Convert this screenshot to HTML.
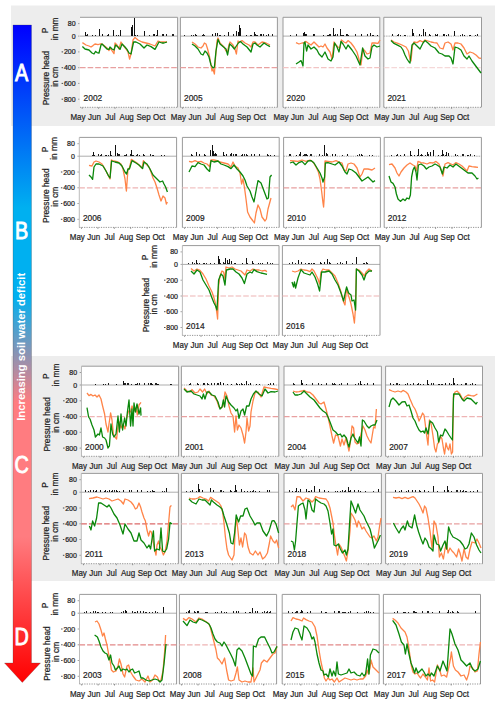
<!DOCTYPE html><html><head><meta charset="utf-8"><style>html,body{margin:0;padding:0;background:#fff;width:500px;height:704px;overflow:hidden}svg{display:block}</style></head><body>
<svg width="500" height="704" viewBox="0 0 500 704" font-family='"Liberation Sans", sans-serif'>
<style>text.t{stroke:#222;stroke-width:0.22px}</style>
<defs><linearGradient id="grad" gradientUnits="userSpaceOnUse" x1="0" y1="25" x2="0" y2="682"><stop offset="0" stop-color="#0000ff"/><stop offset="0.2785" stop-color="#00b0f0"/><stop offset="0.414" stop-color="#00b0f0"/><stop offset="0.575" stop-color="#ff7c80"/><stop offset="0.779" stop-color="#ff7c80"/><stop offset="1" stop-color="#ff0000"/></linearGradient></defs>
<rect x="11" y="5.5" width="484" height="120.5" fill="#ededed"/>
<rect x="11" y="356" width="484" height="225" fill="#ededed"/>
<path d="M13 25 H31.5 V663 H40.5 L22.3 682.5 L4.5 663 H13 Z" fill="url(#grad)" stroke="rgba(60,60,60,0.35)" stroke-width="0.7"/>
<text transform="translate(21.6,80.5) scale(0.86,1)" font-size="23" fill="#fff" stroke="#fff" stroke-width="0.9" text-anchor="middle">A</text>
<text transform="translate(21.6,238.5) scale(0.86,1)" font-size="23" fill="#fff" stroke="#fff" stroke-width="0.9" text-anchor="middle">B</text>
<text transform="translate(21.6,472.59999999999997) scale(0.86,1)" font-size="23" fill="#fff" stroke="#fff" stroke-width="0.9" text-anchor="middle">C</text>
<text transform="translate(21.6,644.7) scale(0.86,1)" font-size="23" fill="#fff" stroke="#fff" stroke-width="0.9" text-anchor="middle">D</text>
<text transform="translate(25.4,346.8) rotate(-90)" font-size="11.4" font-weight="bold" fill="#fff" text-anchor="middle" textLength="148" lengthAdjust="spacingAndGlyphs">Increasing soil water deficit</text>
<rect x="80" y="17.3" width="97.6" height="90.0" fill="#fff"/>
<path d="M80 17.3 H177.6 V107.3" fill="none" stroke="#9a9a9a" stroke-width="1"/>
<line x1="80" y1="107.3" x2="177.6" y2="107.3" stroke="#888" stroke-width="0.9" stroke-dasharray="1.2 1.2"/>
<line x1="80" y1="36.1" x2="177.6" y2="36.1" stroke="#8a8a8a" stroke-width="0.7"/>
<line x1="80" y1="67.7" x2="177.6" y2="67.7" stroke="#e8a0a0" stroke-width="1.2" stroke-dasharray="5.6 2"/>
<line x1="82.2" y1="107.3" x2="82.2" y2="108.8" stroke="#666" stroke-width="0.7"/>
<line x1="98.6" y1="107.3" x2="98.6" y2="108.8" stroke="#666" stroke-width="0.7"/>
<line x1="115.0" y1="107.3" x2="115.0" y2="108.8" stroke="#666" stroke-width="0.7"/>
<line x1="131.4" y1="107.3" x2="131.4" y2="108.8" stroke="#666" stroke-width="0.7"/>
<line x1="147.8" y1="107.3" x2="147.8" y2="108.8" stroke="#666" stroke-width="0.7"/>
<line x1="164.2" y1="107.3" x2="164.2" y2="108.8" stroke="#666" stroke-width="0.7"/>
<polyline points="82.4,42.6 86.0,45.0 89.0,46.0 91.0,47.0 93.0,45.6 95.0,44.0 98.0,44.6 100.0,44.0 102.0,44.0 104.0,45.6 107.0,48.0 109.0,50.6 110.0,48.0 112.0,50.6 114.0,53.6 115.0,43.0 117.0,45.0 119.0,49.0 121.0,42.0 123.0,45.0 126.0,49.0 128.0,52.0 129.6,59.0 131.0,54.0 133.0,40.0 135.0,37.4 138.0,40.0 142.0,42.0 146.0,43.0 150.0,44.0 155.0,46.0 158.0,41.0 161.0,42.0 164.0,42.0 167.0,42.0" fill="none" stroke="#ff8448" stroke-width="1.3" stroke-linejoin="round"/>
<polyline points="82.4,46.6 85.0,49.0 89.0,50.0 92.0,53.0 94.0,54.0 95.6,51.4 97.0,52.6 99.0,53.0 101.0,45.0 102.0,44.0 104.0,46.0 107.0,49.0 109.0,49.4 110.0,47.0 112.0,49.0 114.0,50.0 115.6,45.0 118.0,47.0 120.0,49.4 122.0,44.0 125.0,47.0 127.0,49.4 129.0,53.0 131.0,54.0 133.6,42.0 136.0,42.0 140.0,44.0 144.0,48.0 147.0,45.0 151.0,46.6 155.0,49.4 159.0,42.0 162.0,43.0 164.0,43.0 167.0,42.0" fill="none" stroke="#0a870a" stroke-width="1.3" stroke-linejoin="round"/>
<rect x="149" y="34.5" width="1" height="1.6" fill="#222" shape-rendering="crispEdges"/>
<rect x="153" y="34.4" width="1" height="1.7" fill="#222" shape-rendering="crispEdges"/>
<rect x="162" y="33.9" width="1" height="2.2" fill="#222" shape-rendering="crispEdges"/>
<rect x="137" y="35.3" width="1" height="0.8" fill="#222" shape-rendering="crispEdges"/>
<rect x="107" y="34.5" width="1" height="1.6" fill="#222" shape-rendering="crispEdges"/>
<rect x="173" y="35.2" width="1" height="0.9" fill="#222" shape-rendering="crispEdges"/>
<rect x="153" y="33.9" width="1" height="2.2" fill="#222" shape-rendering="crispEdges"/>
<rect x="86" y="35.3" width="1" height="0.8" fill="#222" shape-rendering="crispEdges"/>
<rect x="99" y="34.7" width="1" height="1.4" fill="#222" shape-rendering="crispEdges"/>
<rect x="116" y="34.5" width="1" height="1.6" fill="#222" shape-rendering="crispEdges"/>
<rect x="135" y="34.7" width="1" height="1.4" fill="#222" shape-rendering="crispEdges"/>
<rect x="87" y="34.4" width="1" height="1.7" fill="#222" shape-rendering="crispEdges"/>
<rect x="85" y="34.7" width="1" height="1.4" fill="#222" shape-rendering="crispEdges"/>
<rect x="172" y="33.9" width="1" height="2.2" fill="#222" shape-rendering="crispEdges"/>
<rect x="166" y="34.3" width="1" height="1.8" fill="#222" shape-rendering="crispEdges"/>
<rect x="173" y="34.0" width="1" height="2.1" fill="#222" shape-rendering="crispEdges"/>
<rect x="113" y="34.9" width="1" height="1.2" fill="#222" shape-rendering="crispEdges"/>
<rect x="118" y="34.6" width="1" height="1.5" fill="#222" shape-rendering="crispEdges"/>
<rect x="87" y="34.8" width="1" height="1.3" fill="#222" shape-rendering="crispEdges"/>
<rect x="118" y="34.5" width="1" height="1.6" fill="#222" shape-rendering="crispEdges"/>
<rect x="156" y="35.2" width="1" height="0.9" fill="#222" shape-rendering="crispEdges"/>
<rect x="95" y="35.0" width="1" height="1.1" fill="#222" shape-rendering="crispEdges"/>
<rect x="85" y="31.7" width="1" height="4.4" fill="#111" shape-rendering="crispEdges"/>
<rect x="99" y="28.7" width="1" height="7.4" fill="#111" shape-rendering="crispEdges"/>
<rect x="113" y="29.7" width="1" height="6.4" fill="#111" shape-rendering="crispEdges"/>
<rect x="120" y="30.1" width="1" height="6.0" fill="#111" shape-rendering="crispEdges"/>
<rect x="131" y="26.7" width="1" height="9.4" fill="#111" shape-rendering="crispEdges"/>
<rect x="132" y="24.7" width="1" height="11.4" fill="#111" shape-rendering="crispEdges"/>
<rect x="134" y="18.3" width="1" height="17.8" fill="#111" shape-rendering="crispEdges"/>
<rect x="144" y="31.3" width="1" height="4.8" fill="#111" shape-rendering="crispEdges"/>
<rect x="157" y="30.3" width="1" height="5.8" fill="#111" shape-rendering="crispEdges"/>
<rect x="108" y="33.7" width="1" height="2.4" fill="#111" shape-rendering="crispEdges"/>
<rect x="92" y="34.7" width="1" height="1.4" fill="#111" shape-rendering="crispEdges"/>
<rect x="102" y="34.3" width="1" height="1.8" fill="#111" shape-rendering="crispEdges"/>
<rect x="154" y="33.7" width="1" height="2.4" fill="#111" shape-rendering="crispEdges"/>
<rect x="163" y="33.7" width="1" height="2.4" fill="#111" shape-rendering="crispEdges"/>
<text transform="translate(83.6,101.0) scale(0.88,1)" font-size="9.5" fill="#222" class="t">2002</text>
<text transform="translate(78.0,119.9) scale(0.86,1)" font-size="9.3" fill="#222" class="t" text-anchor="middle">May</text>
<text transform="translate(94.5,119.9) scale(0.86,1)" font-size="9.3" fill="#222" class="t" text-anchor="middle">Jun</text>
<text transform="translate(110.3,119.9) scale(0.86,1)" font-size="9.3" fill="#222" class="t" text-anchor="middle">Jul</text>
<text transform="translate(126.7,119.9) scale(0.86,1)" font-size="9.3" fill="#222" class="t" text-anchor="middle">Aug</text>
<text transform="translate(143.5,119.9) scale(0.86,1)" font-size="9.3" fill="#222" class="t" text-anchor="middle">Sep</text>
<text transform="translate(159.3,119.9) scale(0.86,1)" font-size="9.3" fill="#222" class="t" text-anchor="middle">Oct</text>
<text x="75.6" y="26.1" font-size="7" fill="#222" class="t" text-anchor="end">80</text>
<line x1="78.2" y1="23.6" x2="79.4" y2="23.6" stroke="#666" stroke-width="0.7"/>
<text x="75.6" y="38.6" font-size="7" fill="#222" class="t" text-anchor="end">0</text>
<line x1="78.2" y1="36.1" x2="79.4" y2="36.1" stroke="#666" stroke-width="0.7"/>
<text x="75.6" y="54.4" font-size="7" fill="#222" class="t" text-anchor="end">200</text>
<line x1="61.6" y1="51.9" x2="63.1" y2="51.9" stroke="#222" stroke-width="0.8"/>
<line x1="78.2" y1="51.9" x2="79.4" y2="51.9" stroke="#666" stroke-width="0.7"/>
<text x="75.6" y="70.2" font-size="7" fill="#222" class="t" text-anchor="end">400</text>
<line x1="61.6" y1="67.7" x2="63.1" y2="67.7" stroke="#222" stroke-width="0.8"/>
<line x1="78.2" y1="67.7" x2="79.4" y2="67.7" stroke="#666" stroke-width="0.7"/>
<text x="75.6" y="85.9" font-size="7" fill="#222" class="t" text-anchor="end">600</text>
<line x1="61.6" y1="83.4" x2="63.1" y2="83.4" stroke="#222" stroke-width="0.8"/>
<line x1="78.2" y1="83.4" x2="79.4" y2="83.4" stroke="#666" stroke-width="0.7"/>
<text x="75.6" y="101.7" font-size="7" fill="#222" class="t" text-anchor="end">800</text>
<line x1="61.6" y1="99.2" x2="63.1" y2="99.2" stroke="#222" stroke-width="0.8"/>
<line x1="78.2" y1="99.2" x2="79.4" y2="99.2" stroke="#666" stroke-width="0.7"/>
<text transform="translate(48.1,30.4) rotate(-90)" font-size="8.4" fill="#222" class="t" text-anchor="middle">P</text>
<text transform="translate(58.199999999999996,28.8) rotate(-90)" font-size="8.4" fill="#222" class="t" text-anchor="middle">in mm</text>
<text transform="translate(49.0,78.0) rotate(-90)" font-size="8.4" fill="#222" class="t" text-anchor="middle">Pressure head</text>
<text transform="translate(57.9,76.8) rotate(-90)" font-size="8.4" fill="#222" class="t" text-anchor="middle">in cm</text>
<rect x="180.4" y="17.3" width="97.0" height="90.0" fill="#fff"/>
<path d="M180.4 107.3 V17.3 H277.4 V107.3" fill="none" stroke="#9a9a9a" stroke-width="1"/>
<line x1="180.4" y1="107.3" x2="277.4" y2="107.3" stroke="#888" stroke-width="0.9" stroke-dasharray="1.2 1.2"/>
<line x1="180.4" y1="36.1" x2="277.4" y2="36.1" stroke="#8a8a8a" stroke-width="0.7"/>
<line x1="180.4" y1="67.7" x2="277.4" y2="67.7" stroke="#e8a0a0" stroke-width="1.2" stroke-dasharray="5.6 2"/>
<line x1="182.6" y1="107.3" x2="182.6" y2="108.8" stroke="#666" stroke-width="0.7"/>
<line x1="199.0" y1="107.3" x2="199.0" y2="108.8" stroke="#666" stroke-width="0.7"/>
<line x1="215.4" y1="107.3" x2="215.4" y2="108.8" stroke="#666" stroke-width="0.7"/>
<line x1="231.8" y1="107.3" x2="231.8" y2="108.8" stroke="#666" stroke-width="0.7"/>
<line x1="248.2" y1="107.3" x2="248.2" y2="108.8" stroke="#666" stroke-width="0.7"/>
<line x1="264.6" y1="107.3" x2="264.6" y2="108.8" stroke="#666" stroke-width="0.7"/>
<polyline points="192.0,42.0 195.0,44.0 198.0,47.0 201.0,48.0 203.0,46.0 204.4,43.0 206.0,44.0 207.6,49.0 209.6,57.0 211.0,65.0 212.0,71.0 213.0,69.0 214.4,74.0 215.6,57.0 217.0,41.0 218.0,38.0 220.0,43.0 222.0,45.0 224.0,47.0 226.0,51.0 227.4,52.0 229.0,45.0 230.0,42.0 233.0,45.0 235.0,49.0 236.4,54.0 238.0,41.0 240.0,42.0 242.0,40.6 245.0,43.0 249.0,45.0 251.0,47.0 253.0,42.0 255.0,42.0 258.0,45.0 262.0,42.0 266.0,43.0 270.0,45.0" fill="none" stroke="#ff8448" stroke-width="1.3" stroke-linejoin="round"/>
<polyline points="192.0,44.0 195.0,46.0 198.0,49.0 201.0,54.0 203.0,55.0 205.0,51.0 207.0,53.0 209.0,57.0 211.0,65.0 213.0,68.0 214.4,67.0 216.0,51.0 218.0,39.4 220.0,44.0 223.0,46.6 226.0,49.0 227.6,55.0 229.6,44.0 232.0,46.0 234.4,49.0 237.0,45.0 238.4,43.0 240.4,41.4 243.0,44.0 247.0,47.0 251.0,52.0 253.0,44.0 255.0,43.0 257.0,45.0 260.0,47.0 264.0,43.0 267.0,45.0 270.0,46.6" fill="none" stroke="#0a870a" stroke-width="1.3" stroke-linejoin="round"/>
<rect x="224" y="35.2" width="1" height="0.9" fill="#222" shape-rendering="crispEdges"/>
<rect x="203" y="34.3" width="1" height="1.8" fill="#222" shape-rendering="crispEdges"/>
<rect x="193" y="34.6" width="1" height="1.5" fill="#222" shape-rendering="crispEdges"/>
<rect x="257" y="34.7" width="1" height="1.4" fill="#222" shape-rendering="crispEdges"/>
<rect x="266" y="35.1" width="1" height="1.0" fill="#222" shape-rendering="crispEdges"/>
<rect x="195" y="33.7" width="1" height="2.4" fill="#222" shape-rendering="crispEdges"/>
<rect x="184" y="34.9" width="1" height="1.2" fill="#222" shape-rendering="crispEdges"/>
<rect x="219" y="35.2" width="1" height="0.9" fill="#222" shape-rendering="crispEdges"/>
<rect x="263" y="33.8" width="1" height="2.3" fill="#222" shape-rendering="crispEdges"/>
<rect x="251" y="35.2" width="1" height="0.9" fill="#222" shape-rendering="crispEdges"/>
<rect x="220" y="34.8" width="1" height="1.3" fill="#222" shape-rendering="crispEdges"/>
<rect x="212" y="35.3" width="1" height="0.8" fill="#222" shape-rendering="crispEdges"/>
<rect x="233" y="33.9" width="1" height="2.2" fill="#222" shape-rendering="crispEdges"/>
<rect x="255" y="34.9" width="1" height="1.2" fill="#222" shape-rendering="crispEdges"/>
<rect x="191" y="34.5" width="1" height="1.6" fill="#222" shape-rendering="crispEdges"/>
<rect x="256" y="34.6" width="1" height="1.5" fill="#222" shape-rendering="crispEdges"/>
<rect x="255" y="34.0" width="1" height="2.1" fill="#222" shape-rendering="crispEdges"/>
<rect x="272" y="34.2" width="1" height="1.9" fill="#222" shape-rendering="crispEdges"/>
<rect x="260" y="34.3" width="1" height="1.8" fill="#222" shape-rendering="crispEdges"/>
<rect x="263" y="34.5" width="1" height="1.6" fill="#222" shape-rendering="crispEdges"/>
<rect x="250" y="34.8" width="1" height="1.3" fill="#222" shape-rendering="crispEdges"/>
<rect x="204" y="35.3" width="1" height="0.8" fill="#222" shape-rendering="crispEdges"/>
<rect x="196" y="35.1" width="1" height="1.0" fill="#111" shape-rendering="crispEdges"/>
<rect x="202" y="34.7" width="1" height="1.4" fill="#111" shape-rendering="crispEdges"/>
<rect x="212" y="34.3" width="1" height="1.8" fill="#111" shape-rendering="crispEdges"/>
<rect x="215" y="32.7" width="1" height="3.4" fill="#111" shape-rendering="crispEdges"/>
<rect x="217" y="32.7" width="1" height="3.4" fill="#111" shape-rendering="crispEdges"/>
<rect x="228" y="31.7" width="1" height="4.4" fill="#111" shape-rendering="crispEdges"/>
<rect x="236" y="31.1" width="1" height="5.0" fill="#111" shape-rendering="crispEdges"/>
<rect x="238" y="31.7" width="1" height="4.4" fill="#111" shape-rendering="crispEdges"/>
<rect x="239" y="24.7" width="1" height="11.4" fill="#111" shape-rendering="crispEdges"/>
<rect x="240" y="27.7" width="1" height="8.4" fill="#111" shape-rendering="crispEdges"/>
<rect x="246" y="34.7" width="1" height="1.4" fill="#111" shape-rendering="crispEdges"/>
<rect x="254" y="31.7" width="1" height="4.4" fill="#111" shape-rendering="crispEdges"/>
<rect x="261" y="34.3" width="1" height="1.8" fill="#111" shape-rendering="crispEdges"/>
<rect x="268" y="33.7" width="1" height="2.4" fill="#111" shape-rendering="crispEdges"/>
<text transform="translate(184.0,101.0) scale(0.88,1)" font-size="9.5" fill="#222" class="t">2005</text>
<text transform="translate(178.4,119.9) scale(0.86,1)" font-size="9.3" fill="#222" class="t" text-anchor="middle">May</text>
<text transform="translate(194.9,119.9) scale(0.86,1)" font-size="9.3" fill="#222" class="t" text-anchor="middle">Jun</text>
<text transform="translate(210.7,119.9) scale(0.86,1)" font-size="9.3" fill="#222" class="t" text-anchor="middle">Jul</text>
<text transform="translate(227.1,119.9) scale(0.86,1)" font-size="9.3" fill="#222" class="t" text-anchor="middle">Aug</text>
<text transform="translate(243.9,119.9) scale(0.86,1)" font-size="9.3" fill="#222" class="t" text-anchor="middle">Sep</text>
<text transform="translate(259.7,119.9) scale(0.86,1)" font-size="9.3" fill="#222" class="t" text-anchor="middle">Oct</text>
<rect x="283" y="17.3" width="96.8" height="90.0" fill="#fff"/>
<path d="M283 107.3 V17.3 H379.8 V107.3" fill="none" stroke="#9a9a9a" stroke-width="1"/>
<line x1="283" y1="107.3" x2="379.8" y2="107.3" stroke="#888" stroke-width="0.9" stroke-dasharray="1.2 1.2"/>
<line x1="283" y1="36.1" x2="379.8" y2="36.1" stroke="#8a8a8a" stroke-width="0.7"/>
<line x1="283" y1="67.7" x2="379.8" y2="67.7" stroke="#f2c4c4" stroke-width="1.2" stroke-dasharray="5.6 2"/>
<line x1="285.2" y1="107.3" x2="285.2" y2="108.8" stroke="#666" stroke-width="0.7"/>
<line x1="301.6" y1="107.3" x2="301.6" y2="108.8" stroke="#666" stroke-width="0.7"/>
<line x1="318.0" y1="107.3" x2="318.0" y2="108.8" stroke="#666" stroke-width="0.7"/>
<line x1="334.4" y1="107.3" x2="334.4" y2="108.8" stroke="#666" stroke-width="0.7"/>
<line x1="350.8" y1="107.3" x2="350.8" y2="108.8" stroke="#666" stroke-width="0.7"/>
<line x1="367.2" y1="107.3" x2="367.2" y2="108.8" stroke="#666" stroke-width="0.7"/>
<polyline points="296.0,42.6 299.0,44.0 302.0,43.0 304.0,42.6 306.0,41.4 308.0,43.0 311.0,45.0 314.0,42.0 317.0,45.0 319.0,47.0 321.0,46.0 323.0,47.0 325.0,44.0 327.0,48.0 330.0,52.0 332.0,59.0 334.0,42.0 336.0,45.0 338.0,47.0 340.0,48.0 341.4,40.0 344.0,42.0 346.0,43.0 348.0,40.6 351.0,43.0 354.0,47.0 357.0,52.0 360.0,63.0 361.0,65.0 363.0,49.0 365.0,51.0 367.0,54.0 370.0,53.0 372.0,43.0 375.0,43.0 378.0,43.4 380.0,40.0" fill="none" stroke="#ff8448" stroke-width="1.3" stroke-linejoin="round"/>
<polyline points="296.0,64.0 299.0,62.0 301.0,60.6 302.0,63.0 303.0,66.0 304.0,43.0 305.0,42.0 306.6,51.0 308.0,45.0 311.0,49.0 314.0,47.0 317.0,50.0 319.0,54.0 322.0,57.0 325.0,52.0 328.0,59.0 331.0,61.0 333.0,57.0 334.6,43.0 337.0,47.0 339.0,52.0 341.0,41.4 343.0,44.0 346.0,49.0 348.0,45.0 352.0,50.0 356.0,56.0 360.0,65.0 362.6,48.0 365.0,56.0 368.0,59.0 370.0,58.0 372.0,47.0 374.0,45.0 377.0,47.0 380.0,46.0" fill="none" stroke="#0a870a" stroke-width="1.3" stroke-linejoin="round"/>
<rect x="342" y="35.0" width="1" height="1.1" fill="#222" shape-rendering="crispEdges"/>
<rect x="355" y="33.8" width="1" height="2.3" fill="#222" shape-rendering="crispEdges"/>
<rect x="329" y="33.8" width="1" height="2.3" fill="#222" shape-rendering="crispEdges"/>
<rect x="335" y="34.3" width="1" height="1.8" fill="#222" shape-rendering="crispEdges"/>
<rect x="327" y="34.9" width="1" height="1.2" fill="#222" shape-rendering="crispEdges"/>
<rect x="305" y="34.2" width="1" height="1.9" fill="#222" shape-rendering="crispEdges"/>
<rect x="340" y="34.5" width="1" height="1.6" fill="#222" shape-rendering="crispEdges"/>
<rect x="296" y="34.2" width="1" height="1.9" fill="#222" shape-rendering="crispEdges"/>
<rect x="330" y="33.9" width="1" height="2.2" fill="#222" shape-rendering="crispEdges"/>
<rect x="334" y="34.5" width="1" height="1.6" fill="#222" shape-rendering="crispEdges"/>
<rect x="290" y="35.2" width="1" height="0.9" fill="#222" shape-rendering="crispEdges"/>
<rect x="367" y="33.8" width="1" height="2.3" fill="#222" shape-rendering="crispEdges"/>
<rect x="306" y="34.0" width="1" height="2.1" fill="#222" shape-rendering="crispEdges"/>
<rect x="348" y="35.2" width="1" height="0.9" fill="#222" shape-rendering="crispEdges"/>
<rect x="373" y="34.9" width="1" height="1.2" fill="#222" shape-rendering="crispEdges"/>
<rect x="372" y="35.3" width="1" height="0.8" fill="#222" shape-rendering="crispEdges"/>
<rect x="334" y="34.6" width="1" height="1.5" fill="#222" shape-rendering="crispEdges"/>
<rect x="314" y="34.3" width="1" height="1.8" fill="#222" shape-rendering="crispEdges"/>
<rect x="327" y="34.5" width="1" height="1.6" fill="#222" shape-rendering="crispEdges"/>
<rect x="341" y="34.5" width="1" height="1.6" fill="#222" shape-rendering="crispEdges"/>
<rect x="347" y="34.1" width="1" height="2.0" fill="#222" shape-rendering="crispEdges"/>
<rect x="337" y="33.9" width="1" height="2.2" fill="#222" shape-rendering="crispEdges"/>
<rect x="298" y="35.7" width="1" height="0.4" fill="#111" shape-rendering="crispEdges"/>
<rect x="303" y="32.7" width="1" height="3.4" fill="#111" shape-rendering="crispEdges"/>
<rect x="304" y="32.1" width="1" height="4.0" fill="#111" shape-rendering="crispEdges"/>
<rect x="305" y="34.1" width="1" height="2.0" fill="#111" shape-rendering="crispEdges"/>
<rect x="313" y="34.1" width="1" height="2.0" fill="#111" shape-rendering="crispEdges"/>
<rect x="323" y="35.3" width="1" height="0.8" fill="#111" shape-rendering="crispEdges"/>
<rect x="328" y="34.7" width="1" height="1.4" fill="#111" shape-rendering="crispEdges"/>
<rect x="333" y="28.1" width="1" height="8.0" fill="#111" shape-rendering="crispEdges"/>
<rect x="340" y="29.3" width="1" height="6.8" fill="#111" shape-rendering="crispEdges"/>
<rect x="343" y="34.7" width="1" height="1.4" fill="#111" shape-rendering="crispEdges"/>
<rect x="346" y="33.7" width="1" height="2.4" fill="#111" shape-rendering="crispEdges"/>
<rect x="361" y="34.1" width="1" height="2.0" fill="#111" shape-rendering="crispEdges"/>
<rect x="370" y="32.7" width="1" height="3.4" fill="#111" shape-rendering="crispEdges"/>
<rect x="377" y="34.7" width="1" height="1.4" fill="#111" shape-rendering="crispEdges"/>
<text transform="translate(286.6,101.0) scale(0.88,1)" font-size="9.5" fill="#222" class="t">2020</text>
<text transform="translate(281.0,119.9) scale(0.86,1)" font-size="9.3" fill="#222" class="t" text-anchor="middle">May</text>
<text transform="translate(297.5,119.9) scale(0.86,1)" font-size="9.3" fill="#222" class="t" text-anchor="middle">Jun</text>
<text transform="translate(313.3,119.9) scale(0.86,1)" font-size="9.3" fill="#222" class="t" text-anchor="middle">Jul</text>
<text transform="translate(329.7,119.9) scale(0.86,1)" font-size="9.3" fill="#222" class="t" text-anchor="middle">Aug</text>
<text transform="translate(346.5,119.9) scale(0.86,1)" font-size="9.3" fill="#222" class="t" text-anchor="middle">Sep</text>
<text transform="translate(362.3,119.9) scale(0.86,1)" font-size="9.3" fill="#222" class="t" text-anchor="middle">Oct</text>
<rect x="383.8" y="17.3" width="97.7" height="90.0" fill="#fff"/>
<path d="M383.8 107.3 V17.3 H481.5 V107.3" fill="none" stroke="#9a9a9a" stroke-width="1"/>
<line x1="383.8" y1="107.3" x2="481.5" y2="107.3" stroke="#888" stroke-width="0.9" stroke-dasharray="1.2 1.2"/>
<line x1="383.8" y1="36.1" x2="481.5" y2="36.1" stroke="#999" stroke-width="0.8" stroke-dasharray="1.5 0.8"/>
<line x1="383.8" y1="67.7" x2="481.5" y2="67.7" stroke="#f5d8d8" stroke-width="1.2" stroke-dasharray="5.6 2"/>
<line x1="386.0" y1="107.3" x2="386.0" y2="108.8" stroke="#666" stroke-width="0.7"/>
<line x1="402.4" y1="107.3" x2="402.4" y2="108.8" stroke="#666" stroke-width="0.7"/>
<line x1="418.8" y1="107.3" x2="418.8" y2="108.8" stroke="#666" stroke-width="0.7"/>
<line x1="435.2" y1="107.3" x2="435.2" y2="108.8" stroke="#666" stroke-width="0.7"/>
<line x1="451.6" y1="107.3" x2="451.6" y2="108.8" stroke="#666" stroke-width="0.7"/>
<line x1="468.0" y1="107.3" x2="468.0" y2="108.8" stroke="#666" stroke-width="0.7"/>
<polyline points="391.0,40.0 394.0,42.0 398.0,43.4 402.0,45.0 406.0,47.0 408.4,51.0 410.0,59.0 411.0,61.0 412.4,46.0 414.0,42.0 417.0,42.6 420.0,40.6 423.0,42.0 425.0,40.0 428.0,41.0 431.0,42.0 434.0,42.6 437.0,43.0 440.0,48.0 443.0,49.0 445.0,43.0 448.0,42.0 451.0,44.0 453.0,50.0 455.0,43.0 458.0,43.0 461.0,44.0 464.0,48.0 467.0,54.0 470.0,52.0 473.0,53.0 476.0,55.0 479.0,58.0 481.0,58.4" fill="none" stroke="#ff8448" stroke-width="1.3" stroke-linejoin="round"/>
<polyline points="391.0,40.6 394.0,43.4 398.0,45.4 401.0,47.0 403.0,50.0 405.0,55.0 407.0,59.0 409.0,62.0 410.0,63.0 412.0,45.0 414.0,43.0 417.0,46.0 420.0,49.0 423.0,43.0 425.0,40.6 428.0,43.0 431.0,46.0 435.0,48.0 439.0,53.0 442.0,54.0 445.0,56.0 449.0,56.0 451.0,58.0 453.0,64.0 455.0,47.0 458.0,48.0 461.0,50.0 464.0,56.0 467.0,59.0 469.0,56.0 472.0,61.0 475.0,65.0 478.0,69.0 481.0,73.0" fill="none" stroke="#0a870a" stroke-width="1.3" stroke-linejoin="round"/>
<rect x="462" y="33.9" width="1" height="2.2" fill="#222" shape-rendering="crispEdges"/>
<rect x="436" y="34.9" width="1" height="1.2" fill="#222" shape-rendering="crispEdges"/>
<rect x="444" y="33.7" width="1" height="2.4" fill="#222" shape-rendering="crispEdges"/>
<rect x="430" y="35.2" width="1" height="0.9" fill="#222" shape-rendering="crispEdges"/>
<rect x="412" y="34.5" width="1" height="1.6" fill="#222" shape-rendering="crispEdges"/>
<rect x="469" y="35.0" width="1" height="1.1" fill="#222" shape-rendering="crispEdges"/>
<rect x="462" y="34.1" width="1" height="2.0" fill="#222" shape-rendering="crispEdges"/>
<rect x="448" y="34.4" width="1" height="1.7" fill="#222" shape-rendering="crispEdges"/>
<rect x="392" y="34.0" width="1" height="2.1" fill="#222" shape-rendering="crispEdges"/>
<rect x="429" y="35.0" width="1" height="1.1" fill="#222" shape-rendering="crispEdges"/>
<rect x="469" y="34.6" width="1" height="1.5" fill="#222" shape-rendering="crispEdges"/>
<rect x="477" y="34.0" width="1" height="2.1" fill="#222" shape-rendering="crispEdges"/>
<rect x="412" y="34.8" width="1" height="1.3" fill="#222" shape-rendering="crispEdges"/>
<rect x="421" y="34.7" width="1" height="1.4" fill="#222" shape-rendering="crispEdges"/>
<rect x="397" y="34.9" width="1" height="1.2" fill="#222" shape-rendering="crispEdges"/>
<rect x="475" y="34.6" width="1" height="1.5" fill="#222" shape-rendering="crispEdges"/>
<rect x="398" y="34.4" width="1" height="1.7" fill="#222" shape-rendering="crispEdges"/>
<rect x="429" y="34.8" width="1" height="1.3" fill="#222" shape-rendering="crispEdges"/>
<rect x="400" y="35.3" width="1" height="0.8" fill="#222" shape-rendering="crispEdges"/>
<rect x="435" y="33.9" width="1" height="2.2" fill="#222" shape-rendering="crispEdges"/>
<rect x="405" y="35.0" width="1" height="1.1" fill="#222" shape-rendering="crispEdges"/>
<rect x="460" y="34.7" width="1" height="1.4" fill="#222" shape-rendering="crispEdges"/>
<rect x="392" y="35.5" width="1" height="0.6" fill="#111" shape-rendering="crispEdges"/>
<rect x="404" y="35.1" width="1" height="1.0" fill="#111" shape-rendering="crispEdges"/>
<rect x="412" y="28.7" width="1" height="7.4" fill="#111" shape-rendering="crispEdges"/>
<rect x="413" y="33.1" width="1" height="3.0" fill="#111" shape-rendering="crispEdges"/>
<rect x="419" y="34.1" width="1" height="2.0" fill="#111" shape-rendering="crispEdges"/>
<rect x="423" y="29.1" width="1" height="7.0" fill="#111" shape-rendering="crispEdges"/>
<rect x="425" y="32.1" width="1" height="4.0" fill="#111" shape-rendering="crispEdges"/>
<rect x="429" y="34.1" width="1" height="2.0" fill="#111" shape-rendering="crispEdges"/>
<rect x="437" y="34.1" width="1" height="2.0" fill="#111" shape-rendering="crispEdges"/>
<rect x="443" y="34.1" width="1" height="2.0" fill="#111" shape-rendering="crispEdges"/>
<rect x="446" y="34.7" width="1" height="1.4" fill="#111" shape-rendering="crispEdges"/>
<rect x="454" y="30.7" width="1" height="5.4" fill="#111" shape-rendering="crispEdges"/>
<rect x="464" y="35.1" width="1" height="1.0" fill="#111" shape-rendering="crispEdges"/>
<rect x="470" y="35.1" width="1" height="1.0" fill="#111" shape-rendering="crispEdges"/>
<text transform="translate(387.4,101.0) scale(0.88,1)" font-size="9.5" fill="#222" class="t">2021</text>
<text transform="translate(381.8,119.9) scale(0.86,1)" font-size="9.3" fill="#222" class="t" text-anchor="middle">May</text>
<text transform="translate(398.3,119.9) scale(0.86,1)" font-size="9.3" fill="#222" class="t" text-anchor="middle">Jun</text>
<text transform="translate(414.1,119.9) scale(0.86,1)" font-size="9.3" fill="#222" class="t" text-anchor="middle">Jul</text>
<text transform="translate(430.5,119.9) scale(0.86,1)" font-size="9.3" fill="#222" class="t" text-anchor="middle">Aug</text>
<text transform="translate(447.3,119.9) scale(0.86,1)" font-size="9.3" fill="#222" class="t" text-anchor="middle">Sep</text>
<text transform="translate(463.1,119.9) scale(0.86,1)" font-size="9.3" fill="#222" class="t" text-anchor="middle">Oct</text>
<rect x="79.3" y="137.4" width="97.3" height="90.0" fill="#fff"/>
<path d="M79.3 137.4 H176.6 V227.4" fill="none" stroke="#9a9a9a" stroke-width="1"/>
<line x1="79.3" y1="137.4" x2="79.3" y2="227.4" stroke="#b4b4b4" stroke-width="0.9"/>
<line x1="79.3" y1="227.4" x2="176.6" y2="227.4" stroke="#888" stroke-width="0.9" stroke-dasharray="1.2 1.2"/>
<line x1="79.3" y1="156.2" x2="176.6" y2="156.2" stroke="#8a8a8a" stroke-width="0.7"/>
<line x1="79.3" y1="187.8" x2="176.6" y2="187.8" stroke="#eeb4b4" stroke-width="1.2" stroke-dasharray="5.6 2"/>
<line x1="81.5" y1="227.4" x2="81.5" y2="228.9" stroke="#666" stroke-width="0.7"/>
<line x1="97.9" y1="227.4" x2="97.9" y2="228.9" stroke="#666" stroke-width="0.7"/>
<line x1="114.3" y1="227.4" x2="114.3" y2="228.9" stroke="#666" stroke-width="0.7"/>
<line x1="130.7" y1="227.4" x2="130.7" y2="228.9" stroke="#666" stroke-width="0.7"/>
<line x1="147.1" y1="227.4" x2="147.1" y2="228.9" stroke="#666" stroke-width="0.7"/>
<line x1="163.5" y1="227.4" x2="163.5" y2="228.9" stroke="#666" stroke-width="0.7"/>
<polyline points="89.0,165.4 92.0,166.0 94.0,162.0 96.0,161.0 99.0,162.0 102.0,164.0 105.0,169.0 108.0,175.0 110.0,179.0 111.4,160.0 114.0,161.0 118.0,162.0 121.0,164.0 123.0,169.0 125.0,179.0 126.4,191.0 128.0,169.0 129.4,168.0 131.4,159.4 134.0,161.0 137.0,163.0 140.0,166.0 142.0,168.0 143.4,160.6 146.0,164.0 149.0,167.0 151.0,172.0 153.0,178.0 155.0,182.0 157.0,188.0 159.0,195.0 161.0,201.0 163.0,196.0 165.0,198.0 166.4,204.0 167.4,202.0" fill="none" stroke="#ff8448" stroke-width="1.3" stroke-linejoin="round"/>
<polyline points="89.0,175.0 91.0,177.0 92.6,179.4 94.0,167.0 96.0,164.0 99.0,164.0 103.0,166.0 106.0,171.0 108.6,176.0 110.0,178.0 111.6,161.0 115.0,162.0 119.0,163.0 122.0,166.0 125.0,172.0 126.6,174.0 128.0,169.0 129.4,169.0 132.0,160.6 136.0,163.0 139.0,165.0 142.6,168.6 144.0,162.0 147.0,164.0 150.0,169.0 153.0,175.0 156.0,178.0 158.0,180.0 160.0,182.0 162.6,181.0 164.0,184.0 165.6,187.0 167.4,192.0" fill="none" stroke="#0a870a" stroke-width="1.3" stroke-linejoin="round"/>
<rect x="132" y="155.3" width="1" height="0.9" fill="#222" shape-rendering="crispEdges"/>
<rect x="164" y="154.9" width="1" height="1.3" fill="#222" shape-rendering="crispEdges"/>
<rect x="133" y="155.3" width="1" height="0.9" fill="#222" shape-rendering="crispEdges"/>
<rect x="105" y="154.7" width="1" height="1.5" fill="#222" shape-rendering="crispEdges"/>
<rect x="100" y="154.5" width="1" height="1.7" fill="#222" shape-rendering="crispEdges"/>
<rect x="152" y="155.1" width="1" height="1.1" fill="#222" shape-rendering="crispEdges"/>
<rect x="144" y="155.1" width="1" height="1.1" fill="#222" shape-rendering="crispEdges"/>
<rect x="111" y="154.8" width="1" height="1.4" fill="#222" shape-rendering="crispEdges"/>
<rect x="108" y="154.7" width="1" height="1.5" fill="#222" shape-rendering="crispEdges"/>
<rect x="119" y="154.1" width="1" height="2.1" fill="#222" shape-rendering="crispEdges"/>
<rect x="98" y="154.4" width="1" height="1.8" fill="#222" shape-rendering="crispEdges"/>
<rect x="150" y="154.3" width="1" height="1.9" fill="#222" shape-rendering="crispEdges"/>
<rect x="136" y="155.1" width="1" height="1.1" fill="#222" shape-rendering="crispEdges"/>
<rect x="92" y="155.2" width="1" height="1.0" fill="#222" shape-rendering="crispEdges"/>
<rect x="125" y="154.5" width="1" height="1.7" fill="#222" shape-rendering="crispEdges"/>
<rect x="118" y="154.4" width="1" height="1.8" fill="#222" shape-rendering="crispEdges"/>
<rect x="130" y="154.0" width="1" height="2.2" fill="#222" shape-rendering="crispEdges"/>
<rect x="143" y="154.7" width="1" height="1.5" fill="#222" shape-rendering="crispEdges"/>
<rect x="137" y="154.4" width="1" height="1.8" fill="#222" shape-rendering="crispEdges"/>
<rect x="126" y="153.9" width="1" height="2.3" fill="#222" shape-rendering="crispEdges"/>
<rect x="101" y="153.8" width="1" height="2.4" fill="#222" shape-rendering="crispEdges"/>
<rect x="124" y="154.7" width="1" height="1.5" fill="#222" shape-rendering="crispEdges"/>
<rect x="93" y="152.2" width="1" height="4.0" fill="#111" shape-rendering="crispEdges"/>
<rect x="94" y="154.8" width="1" height="1.4" fill="#111" shape-rendering="crispEdges"/>
<rect x="106" y="154.8" width="1" height="1.4" fill="#111" shape-rendering="crispEdges"/>
<rect x="110" y="151.2" width="1" height="5.0" fill="#111" shape-rendering="crispEdges"/>
<rect x="115" y="144.8" width="1" height="11.4" fill="#111" shape-rendering="crispEdges"/>
<rect x="117" y="152.8" width="1" height="3.4" fill="#111" shape-rendering="crispEdges"/>
<rect x="126" y="154.8" width="1" height="1.4" fill="#111" shape-rendering="crispEdges"/>
<rect x="131" y="150.2" width="1" height="6.0" fill="#111" shape-rendering="crispEdges"/>
<rect x="139" y="154.8" width="1" height="1.4" fill="#111" shape-rendering="crispEdges"/>
<rect x="143" y="153.6" width="1" height="2.6" fill="#111" shape-rendering="crispEdges"/>
<rect x="153" y="154.8" width="1" height="1.4" fill="#111" shape-rendering="crispEdges"/>
<rect x="161" y="154.8" width="1" height="1.4" fill="#111" shape-rendering="crispEdges"/>
<text transform="translate(82.9,221.1) scale(0.88,1)" font-size="9.5" fill="#222" class="t">2006</text>
<text transform="translate(77.3,240.0) scale(0.86,1)" font-size="9.3" fill="#222" class="t" text-anchor="middle">May</text>
<text transform="translate(93.8,240.0) scale(0.86,1)" font-size="9.3" fill="#222" class="t" text-anchor="middle">Jun</text>
<text transform="translate(109.6,240.0) scale(0.86,1)" font-size="9.3" fill="#222" class="t" text-anchor="middle">Jul</text>
<text transform="translate(126.0,240.0) scale(0.86,1)" font-size="9.3" fill="#222" class="t" text-anchor="middle">Aug</text>
<text transform="translate(142.8,240.0) scale(0.86,1)" font-size="9.3" fill="#222" class="t" text-anchor="middle">Sep</text>
<text transform="translate(158.6,240.0) scale(0.86,1)" font-size="9.3" fill="#222" class="t" text-anchor="middle">Oct</text>
<text x="74.9" y="146.2" font-size="7" fill="#222" class="t" text-anchor="end">80</text>
<line x1="77.5" y1="143.7" x2="78.7" y2="143.7" stroke="#666" stroke-width="0.7"/>
<text x="74.9" y="158.7" font-size="7" fill="#222" class="t" text-anchor="end">0</text>
<line x1="77.5" y1="156.2" x2="78.7" y2="156.2" stroke="#666" stroke-width="0.7"/>
<text x="74.9" y="174.5" font-size="7" fill="#222" class="t" text-anchor="end">200</text>
<line x1="60.9" y1="172.0" x2="62.4" y2="172.0" stroke="#222" stroke-width="0.8"/>
<line x1="77.5" y1="172.0" x2="78.7" y2="172.0" stroke="#666" stroke-width="0.7"/>
<text x="74.9" y="190.3" font-size="7" fill="#222" class="t" text-anchor="end">400</text>
<line x1="60.9" y1="187.8" x2="62.4" y2="187.8" stroke="#222" stroke-width="0.8"/>
<line x1="77.5" y1="187.8" x2="78.7" y2="187.8" stroke="#666" stroke-width="0.7"/>
<text x="74.9" y="206.0" font-size="7" fill="#222" class="t" text-anchor="end">600</text>
<line x1="60.9" y1="203.5" x2="62.4" y2="203.5" stroke="#222" stroke-width="0.8"/>
<line x1="77.5" y1="203.5" x2="78.7" y2="203.5" stroke="#666" stroke-width="0.7"/>
<text x="74.9" y="221.8" font-size="7" fill="#222" class="t" text-anchor="end">800</text>
<line x1="60.9" y1="219.3" x2="62.4" y2="219.3" stroke="#222" stroke-width="0.8"/>
<line x1="77.5" y1="219.3" x2="78.7" y2="219.3" stroke="#666" stroke-width="0.7"/>
<text transform="translate(47.9,149.5) rotate(-90)" font-size="8.4" fill="#222" class="t" text-anchor="middle">P</text>
<text transform="translate(57.3,148.4) rotate(-90)" font-size="8.4" fill="#222" class="t" text-anchor="middle">in mm</text>
<text transform="translate(48.699999999999996,195.7) rotate(-90)" font-size="8.4" fill="#222" class="t" text-anchor="middle">Pressure head</text>
<text transform="translate(57.5,196.7) rotate(-90)" font-size="8.4" fill="#222" class="t" text-anchor="middle">in cm</text>
<rect x="182.4" y="137.4" width="96.8" height="90.0" fill="#fff"/>
<path d="M182.4 227.4 V137.4 H279.2 V227.4" fill="none" stroke="#9a9a9a" stroke-width="1"/>
<line x1="182.4" y1="227.4" x2="279.2" y2="227.4" stroke="#888" stroke-width="0.9" stroke-dasharray="1.2 1.2"/>
<line x1="182.4" y1="156.2" x2="279.2" y2="156.2" stroke="#8a8a8a" stroke-width="0.7"/>
<line x1="182.4" y1="187.8" x2="279.2" y2="187.8" stroke="#f2c4c4" stroke-width="1.2" stroke-dasharray="5.6 2"/>
<line x1="184.6" y1="227.4" x2="184.6" y2="228.9" stroke="#666" stroke-width="0.7"/>
<line x1="201.0" y1="227.4" x2="201.0" y2="228.9" stroke="#666" stroke-width="0.7"/>
<line x1="217.4" y1="227.4" x2="217.4" y2="228.9" stroke="#666" stroke-width="0.7"/>
<line x1="233.8" y1="227.4" x2="233.8" y2="228.9" stroke="#666" stroke-width="0.7"/>
<line x1="250.2" y1="227.4" x2="250.2" y2="228.9" stroke="#666" stroke-width="0.7"/>
<line x1="266.6" y1="227.4" x2="266.6" y2="228.9" stroke="#666" stroke-width="0.7"/>
<polyline points="189.0,161.4 192.0,162.0 195.0,160.6 198.0,162.0 201.0,161.4 204.0,163.0 207.0,164.0 209.6,166.6 211.0,160.0 214.0,160.0 217.0,160.6 220.0,162.0 224.0,163.0 228.0,164.0 231.0,167.0 233.0,162.0 235.0,166.0 238.0,168.0 240.0,173.0 241.6,184.0 243.0,179.0 244.4,187.0 246.0,199.0 247.6,212.0 250.0,217.0 253.0,221.0 254.4,223.0 256.0,213.0 258.0,205.0 260.0,209.0 262.0,217.0 265.0,221.0 266.4,219.0 268.0,209.0 271.0,198.0" fill="none" stroke="#ff8448" stroke-width="1.3" stroke-linejoin="round"/>
<polyline points="189.0,172.0 192.0,166.0 195.0,166.6 198.0,162.6 201.0,164.0 204.0,165.0 207.0,169.0 209.6,171.4 211.0,160.6 214.0,162.0 218.0,161.0 221.0,164.0 224.0,165.0 228.0,166.6 231.0,168.6 234.0,165.0 237.0,169.0 240.0,172.0 243.0,176.0 245.0,180.0 247.0,186.0 250.0,191.0 252.0,197.0 254.0,202.0 256.0,191.0 258.0,180.6 261.0,183.0 264.0,191.0 267.0,199.0 268.4,198.0 270.0,177.0 271.6,175.0" fill="none" stroke="#0a870a" stroke-width="1.3" stroke-linejoin="round"/>
<rect x="210" y="154.0" width="1" height="2.2" fill="#222" shape-rendering="crispEdges"/>
<rect x="244" y="153.8" width="1" height="2.4" fill="#222" shape-rendering="crispEdges"/>
<rect x="223" y="154.3" width="1" height="1.9" fill="#222" shape-rendering="crispEdges"/>
<rect x="216" y="154.1" width="1" height="2.1" fill="#222" shape-rendering="crispEdges"/>
<rect x="241" y="155.2" width="1" height="1.0" fill="#222" shape-rendering="crispEdges"/>
<rect x="205" y="155.1" width="1" height="1.1" fill="#222" shape-rendering="crispEdges"/>
<rect x="247" y="155.3" width="1" height="0.9" fill="#222" shape-rendering="crispEdges"/>
<rect x="233" y="154.1" width="1" height="2.1" fill="#222" shape-rendering="crispEdges"/>
<rect x="230" y="153.9" width="1" height="2.3" fill="#222" shape-rendering="crispEdges"/>
<rect x="274" y="154.6" width="1" height="1.6" fill="#222" shape-rendering="crispEdges"/>
<rect x="268" y="155.3" width="1" height="0.9" fill="#222" shape-rendering="crispEdges"/>
<rect x="231" y="153.9" width="1" height="2.3" fill="#222" shape-rendering="crispEdges"/>
<rect x="224" y="155.2" width="1" height="1.0" fill="#222" shape-rendering="crispEdges"/>
<rect x="268" y="155.1" width="1" height="1.1" fill="#222" shape-rendering="crispEdges"/>
<rect x="235" y="154.2" width="1" height="2.0" fill="#222" shape-rendering="crispEdges"/>
<rect x="192" y="155.3" width="1" height="0.9" fill="#222" shape-rendering="crispEdges"/>
<rect x="246" y="153.9" width="1" height="2.3" fill="#222" shape-rendering="crispEdges"/>
<rect x="224" y="154.6" width="1" height="1.6" fill="#222" shape-rendering="crispEdges"/>
<rect x="214" y="154.4" width="1" height="1.8" fill="#222" shape-rendering="crispEdges"/>
<rect x="259" y="154.0" width="1" height="2.2" fill="#222" shape-rendering="crispEdges"/>
<rect x="251" y="154.4" width="1" height="1.8" fill="#222" shape-rendering="crispEdges"/>
<rect x="213" y="155.1" width="1" height="1.1" fill="#222" shape-rendering="crispEdges"/>
<rect x="191" y="153.8" width="1" height="2.4" fill="#111" shape-rendering="crispEdges"/>
<rect x="196" y="152.4" width="1" height="3.8" fill="#111" shape-rendering="crispEdges"/>
<rect x="199" y="153.8" width="1" height="2.4" fill="#111" shape-rendering="crispEdges"/>
<rect x="204" y="154.4" width="1" height="1.8" fill="#111" shape-rendering="crispEdges"/>
<rect x="210" y="149.8" width="1" height="6.4" fill="#111" shape-rendering="crispEdges"/>
<rect x="212" y="144.8" width="1" height="11.4" fill="#111" shape-rendering="crispEdges"/>
<rect x="213" y="150.8" width="1" height="5.4" fill="#111" shape-rendering="crispEdges"/>
<rect x="215" y="153.2" width="1" height="3.0" fill="#111" shape-rendering="crispEdges"/>
<rect x="223" y="152.4" width="1" height="3.8" fill="#111" shape-rendering="crispEdges"/>
<rect x="226" y="154.4" width="1" height="1.8" fill="#111" shape-rendering="crispEdges"/>
<rect x="231" y="152.8" width="1" height="3.4" fill="#111" shape-rendering="crispEdges"/>
<rect x="236" y="153.8" width="1" height="2.4" fill="#111" shape-rendering="crispEdges"/>
<rect x="242" y="154.4" width="1" height="1.8" fill="#111" shape-rendering="crispEdges"/>
<rect x="254" y="154.4" width="1" height="1.8" fill="#111" shape-rendering="crispEdges"/>
<rect x="267" y="153.8" width="1" height="2.4" fill="#111" shape-rendering="crispEdges"/>
<rect x="270" y="154.8" width="1" height="1.4" fill="#111" shape-rendering="crispEdges"/>
<text transform="translate(186.0,221.1) scale(0.88,1)" font-size="9.5" fill="#222" class="t">2009</text>
<text transform="translate(180.4,240.0) scale(0.86,1)" font-size="9.3" fill="#222" class="t" text-anchor="middle">May</text>
<text transform="translate(196.9,240.0) scale(0.86,1)" font-size="9.3" fill="#222" class="t" text-anchor="middle">Jun</text>
<text transform="translate(212.7,240.0) scale(0.86,1)" font-size="9.3" fill="#222" class="t" text-anchor="middle">Jul</text>
<text transform="translate(229.1,240.0) scale(0.86,1)" font-size="9.3" fill="#222" class="t" text-anchor="middle">Aug</text>
<text transform="translate(245.9,240.0) scale(0.86,1)" font-size="9.3" fill="#222" class="t" text-anchor="middle">Sep</text>
<text transform="translate(261.7,240.0) scale(0.86,1)" font-size="9.3" fill="#222" class="t" text-anchor="middle">Oct</text>
<rect x="283.6" y="137.4" width="96.8" height="90.0" fill="#fff"/>
<path d="M283.6 227.4 V137.4 H380.4 V227.4" fill="none" stroke="#9a9a9a" stroke-width="1"/>
<line x1="283.6" y1="227.4" x2="380.4" y2="227.4" stroke="#888" stroke-width="0.9" stroke-dasharray="1.2 1.2"/>
<line x1="283.6" y1="156.2" x2="380.4" y2="156.2" stroke="#999" stroke-width="0.8" stroke-dasharray="1.5 0.8"/>
<line x1="283.6" y1="187.8" x2="380.4" y2="187.8" stroke="#e8a0a0" stroke-width="1.2" stroke-dasharray="5.6 2"/>
<line x1="285.8" y1="227.4" x2="285.8" y2="228.9" stroke="#666" stroke-width="0.7"/>
<line x1="302.2" y1="227.4" x2="302.2" y2="228.9" stroke="#666" stroke-width="0.7"/>
<line x1="318.6" y1="227.4" x2="318.6" y2="228.9" stroke="#666" stroke-width="0.7"/>
<line x1="335.0" y1="227.4" x2="335.0" y2="228.9" stroke="#666" stroke-width="0.7"/>
<line x1="351.4" y1="227.4" x2="351.4" y2="228.9" stroke="#666" stroke-width="0.7"/>
<line x1="367.8" y1="227.4" x2="367.8" y2="228.9" stroke="#666" stroke-width="0.7"/>
<polyline points="290.0,160.6 294.0,161.0 298.0,161.4 302.0,160.0 306.0,161.4 310.0,160.0 313.0,162.0 316.0,167.0 318.4,172.0 320.0,179.0 321.6,191.0 323.0,203.0 323.6,207.0 324.4,195.0 325.0,161.0 328.0,161.4 332.0,162.0 336.0,160.6 339.0,162.0 342.0,163.0 344.0,170.0 346.0,171.0 348.0,164.0 351.0,163.0 354.0,164.0 357.0,168.0 360.0,177.0 362.0,174.0 364.0,169.0 368.0,169.0 372.0,170.0 375.0,168.0" fill="none" stroke="#ff8448" stroke-width="1.3" stroke-linejoin="round"/>
<polyline points="290.0,163.0 293.0,162.0 296.0,165.0 299.0,162.6 302.0,161.4 305.0,164.6 308.0,161.0 311.0,160.6 314.0,163.0 317.0,168.0 320.0,173.0 322.0,178.0 323.0,182.0 324.6,177.0 325.4,163.0 328.0,162.6 332.0,164.0 335.0,165.0 339.0,162.0 342.0,166.0 345.0,172.0 347.0,174.0 349.0,169.0 352.0,170.0 356.0,173.0 359.0,177.0 362.0,181.0 365.0,179.0 368.0,177.0 371.0,180.0 373.0,182.0 375.0,180.6" fill="none" stroke="#0a870a" stroke-width="1.3" stroke-linejoin="round"/>
<rect x="299" y="154.6" width="1" height="1.6" fill="#222" shape-rendering="crispEdges"/>
<rect x="307" y="154.5" width="1" height="1.7" fill="#222" shape-rendering="crispEdges"/>
<rect x="327" y="153.8" width="1" height="2.4" fill="#222" shape-rendering="crispEdges"/>
<rect x="310" y="154.0" width="1" height="2.2" fill="#222" shape-rendering="crispEdges"/>
<rect x="304" y="154.2" width="1" height="2.0" fill="#222" shape-rendering="crispEdges"/>
<rect x="311" y="154.4" width="1" height="1.8" fill="#222" shape-rendering="crispEdges"/>
<rect x="322" y="154.6" width="1" height="1.6" fill="#222" shape-rendering="crispEdges"/>
<rect x="342" y="154.6" width="1" height="1.6" fill="#222" shape-rendering="crispEdges"/>
<rect x="357" y="155.0" width="1" height="1.2" fill="#222" shape-rendering="crispEdges"/>
<rect x="290" y="154.4" width="1" height="1.8" fill="#222" shape-rendering="crispEdges"/>
<rect x="305" y="154.4" width="1" height="1.8" fill="#222" shape-rendering="crispEdges"/>
<rect x="369" y="155.0" width="1" height="1.2" fill="#222" shape-rendering="crispEdges"/>
<rect x="303" y="154.8" width="1" height="1.4" fill="#222" shape-rendering="crispEdges"/>
<rect x="359" y="153.9" width="1" height="2.3" fill="#222" shape-rendering="crispEdges"/>
<rect x="300" y="155.2" width="1" height="1.0" fill="#222" shape-rendering="crispEdges"/>
<rect x="289" y="153.8" width="1" height="2.4" fill="#222" shape-rendering="crispEdges"/>
<rect x="299" y="154.1" width="1" height="2.1" fill="#222" shape-rendering="crispEdges"/>
<rect x="299" y="154.9" width="1" height="1.3" fill="#222" shape-rendering="crispEdges"/>
<rect x="372" y="154.5" width="1" height="1.7" fill="#222" shape-rendering="crispEdges"/>
<rect x="319" y="154.4" width="1" height="1.8" fill="#222" shape-rendering="crispEdges"/>
<rect x="362" y="155.4" width="1" height="0.8" fill="#222" shape-rendering="crispEdges"/>
<rect x="290" y="155.3" width="1" height="0.9" fill="#222" shape-rendering="crispEdges"/>
<rect x="296" y="155.2" width="1" height="1.0" fill="#111" shape-rendering="crispEdges"/>
<rect x="300" y="151.8" width="1" height="4.4" fill="#111" shape-rendering="crispEdges"/>
<rect x="306" y="154.4" width="1" height="1.8" fill="#111" shape-rendering="crispEdges"/>
<rect x="324" y="145.2" width="1" height="11.0" fill="#111" shape-rendering="crispEdges"/>
<rect x="326" y="153.2" width="1" height="3.0" fill="#111" shape-rendering="crispEdges"/>
<rect x="332" y="154.4" width="1" height="1.8" fill="#111" shape-rendering="crispEdges"/>
<rect x="335" y="153.8" width="1" height="2.4" fill="#111" shape-rendering="crispEdges"/>
<rect x="347" y="154.4" width="1" height="1.8" fill="#111" shape-rendering="crispEdges"/>
<rect x="361" y="154.4" width="1" height="1.8" fill="#111" shape-rendering="crispEdges"/>
<text transform="translate(287.2,221.1) scale(0.88,1)" font-size="9.5" fill="#222" class="t">2010</text>
<text transform="translate(281.6,240.0) scale(0.86,1)" font-size="9.3" fill="#222" class="t" text-anchor="middle">May</text>
<text transform="translate(298.1,240.0) scale(0.86,1)" font-size="9.3" fill="#222" class="t" text-anchor="middle">Jun</text>
<text transform="translate(313.9,240.0) scale(0.86,1)" font-size="9.3" fill="#222" class="t" text-anchor="middle">Jul</text>
<text transform="translate(330.3,240.0) scale(0.86,1)" font-size="9.3" fill="#222" class="t" text-anchor="middle">Aug</text>
<text transform="translate(347.1,240.0) scale(0.86,1)" font-size="9.3" fill="#222" class="t" text-anchor="middle">Sep</text>
<text transform="translate(362.9,240.0) scale(0.86,1)" font-size="9.3" fill="#222" class="t" text-anchor="middle">Oct</text>
<rect x="384.2" y="137.4" width="97.2" height="90.0" fill="#fff"/>
<path d="M384.2 227.4 V137.4 H481.4 V227.4" fill="none" stroke="#9a9a9a" stroke-width="1"/>
<line x1="384.2" y1="227.4" x2="481.4" y2="227.4" stroke="#888" stroke-width="0.9" stroke-dasharray="1.2 1.2"/>
<line x1="384.2" y1="156.2" x2="481.4" y2="156.2" stroke="#999" stroke-width="0.8" stroke-dasharray="1.5 0.8"/>
<line x1="384.2" y1="187.8" x2="481.4" y2="187.8" stroke="#e8a0a0" stroke-width="1.2" stroke-dasharray="5.6 2"/>
<line x1="386.4" y1="227.4" x2="386.4" y2="228.9" stroke="#666" stroke-width="0.7"/>
<line x1="402.8" y1="227.4" x2="402.8" y2="228.9" stroke="#666" stroke-width="0.7"/>
<line x1="419.2" y1="227.4" x2="419.2" y2="228.9" stroke="#666" stroke-width="0.7"/>
<line x1="435.6" y1="227.4" x2="435.6" y2="228.9" stroke="#666" stroke-width="0.7"/>
<line x1="452.0" y1="227.4" x2="452.0" y2="228.9" stroke="#666" stroke-width="0.7"/>
<line x1="468.4" y1="227.4" x2="468.4" y2="228.9" stroke="#666" stroke-width="0.7"/>
<polyline points="389.0,164.6 392.0,164.0 395.0,168.0 397.0,173.0 399.0,176.0 401.0,172.0 404.0,168.0 407.0,165.0 410.0,163.0 413.0,165.0 415.0,166.0 416.6,170.6 418.0,161.4 421.0,162.6 424.0,163.0 427.0,164.0 430.0,162.6 433.0,163.0 436.0,161.4 439.0,164.0 442.0,172.0 443.0,176.0 445.0,164.0 448.0,162.6 451.0,164.0 453.0,165.0 456.0,162.6 459.0,164.0 462.0,166.0 465.0,169.0 467.0,171.0 469.0,166.0 472.0,166.6 475.0,167.0 478.0,167.4" fill="none" stroke="#ff8448" stroke-width="1.3" stroke-linejoin="round"/>
<polyline points="389.0,176.0 391.0,182.0 393.0,183.4 395.0,187.0 396.4,194.0 398.0,199.0 400.4,201.4 403.0,199.0 405.0,200.6 407.0,198.0 409.0,199.0 410.4,195.0 411.6,177.0 413.0,170.0 414.4,167.0 416.0,172.0 417.0,180.0 418.4,165.0 421.0,164.0 424.0,166.0 426.4,169.0 429.0,167.0 432.0,166.0 435.0,164.0 437.0,165.0 440.0,167.0 442.4,174.0 444.0,167.0 447.0,168.0 450.0,165.0 453.0,167.0 456.0,164.0 460.0,167.0 464.0,170.0 468.0,173.0 472.0,173.0 475.0,176.0 477.0,179.0 478.4,178.0" fill="none" stroke="#0a870a" stroke-width="1.3" stroke-linejoin="round"/>
<rect x="396" y="154.8" width="1" height="1.4" fill="#222" shape-rendering="crispEdges"/>
<rect x="417" y="155.4" width="1" height="0.8" fill="#222" shape-rendering="crispEdges"/>
<rect x="462" y="154.4" width="1" height="1.8" fill="#222" shape-rendering="crispEdges"/>
<rect x="468" y="154.9" width="1" height="1.3" fill="#222" shape-rendering="crispEdges"/>
<rect x="397" y="153.8" width="1" height="2.4" fill="#222" shape-rendering="crispEdges"/>
<rect x="470" y="153.9" width="1" height="2.3" fill="#222" shape-rendering="crispEdges"/>
<rect x="414" y="155.1" width="1" height="1.1" fill="#222" shape-rendering="crispEdges"/>
<rect x="445" y="154.5" width="1" height="1.7" fill="#222" shape-rendering="crispEdges"/>
<rect x="438" y="154.9" width="1" height="1.3" fill="#222" shape-rendering="crispEdges"/>
<rect x="420" y="154.9" width="1" height="1.3" fill="#222" shape-rendering="crispEdges"/>
<rect x="443" y="154.0" width="1" height="2.2" fill="#222" shape-rendering="crispEdges"/>
<rect x="457" y="154.7" width="1" height="1.5" fill="#222" shape-rendering="crispEdges"/>
<rect x="391" y="155.1" width="1" height="1.1" fill="#222" shape-rendering="crispEdges"/>
<rect x="422" y="154.8" width="1" height="1.4" fill="#222" shape-rendering="crispEdges"/>
<rect x="425" y="154.6" width="1" height="1.6" fill="#222" shape-rendering="crispEdges"/>
<rect x="474" y="155.0" width="1" height="1.2" fill="#222" shape-rendering="crispEdges"/>
<rect x="446" y="155.2" width="1" height="1.0" fill="#222" shape-rendering="crispEdges"/>
<rect x="433" y="154.9" width="1" height="1.3" fill="#222" shape-rendering="crispEdges"/>
<rect x="427" y="155.2" width="1" height="1.0" fill="#222" shape-rendering="crispEdges"/>
<rect x="441" y="154.7" width="1" height="1.5" fill="#222" shape-rendering="crispEdges"/>
<rect x="463" y="154.2" width="1" height="2.0" fill="#222" shape-rendering="crispEdges"/>
<rect x="428" y="153.8" width="1" height="2.4" fill="#222" shape-rendering="crispEdges"/>
<rect x="390" y="155.8" width="1" height="0.4" fill="#111" shape-rendering="crispEdges"/>
<rect x="400" y="155.2" width="1" height="1.0" fill="#111" shape-rendering="crispEdges"/>
<rect x="404" y="154.4" width="1" height="1.8" fill="#111" shape-rendering="crispEdges"/>
<rect x="410" y="150.8" width="1" height="5.4" fill="#111" shape-rendering="crispEdges"/>
<rect x="411" y="155.2" width="1" height="1.0" fill="#111" shape-rendering="crispEdges"/>
<rect x="418" y="148.8" width="1" height="7.4" fill="#111" shape-rendering="crispEdges"/>
<rect x="421" y="153.8" width="1" height="2.4" fill="#111" shape-rendering="crispEdges"/>
<rect x="427" y="152.4" width="1" height="3.8" fill="#111" shape-rendering="crispEdges"/>
<rect x="430" y="151.8" width="1" height="4.4" fill="#111" shape-rendering="crispEdges"/>
<rect x="433" y="150.4" width="1" height="5.8" fill="#111" shape-rendering="crispEdges"/>
<rect x="442" y="150.4" width="1" height="5.8" fill="#111" shape-rendering="crispEdges"/>
<rect x="446" y="152.4" width="1" height="3.8" fill="#111" shape-rendering="crispEdges"/>
<rect x="448" y="153.2" width="1" height="3.0" fill="#111" shape-rendering="crispEdges"/>
<rect x="455" y="153.8" width="1" height="2.4" fill="#111" shape-rendering="crispEdges"/>
<rect x="467" y="154.8" width="1" height="1.4" fill="#111" shape-rendering="crispEdges"/>
<text transform="translate(387.8,221.1) scale(0.88,1)" font-size="9.5" fill="#222" class="t">2012</text>
<text transform="translate(382.2,240.0) scale(0.86,1)" font-size="9.3" fill="#222" class="t" text-anchor="middle">May</text>
<text transform="translate(398.7,240.0) scale(0.86,1)" font-size="9.3" fill="#222" class="t" text-anchor="middle">Jun</text>
<text transform="translate(414.5,240.0) scale(0.86,1)" font-size="9.3" fill="#222" class="t" text-anchor="middle">Jul</text>
<text transform="translate(430.9,240.0) scale(0.86,1)" font-size="9.3" fill="#222" class="t" text-anchor="middle">Aug</text>
<text transform="translate(447.7,240.0) scale(0.86,1)" font-size="9.3" fill="#222" class="t" text-anchor="middle">Sep</text>
<text transform="translate(463.5,240.0) scale(0.86,1)" font-size="9.3" fill="#222" class="t" text-anchor="middle">Oct</text>
<rect x="182.4" y="245.6" width="96.6" height="89.8" fill="#fff"/>
<path d="M182.4 245.6 H279 V335.4" fill="none" stroke="#9a9a9a" stroke-width="1"/>
<line x1="182.4" y1="245.6" x2="182.4" y2="335.4" stroke="#b4b4b4" stroke-width="0.9"/>
<line x1="182.4" y1="335.4" x2="279" y2="335.4" stroke="#888" stroke-width="0.9" stroke-dasharray="1.2 1.2"/>
<line x1="182.4" y1="264.4" x2="279" y2="264.4" stroke="#8a8a8a" stroke-width="0.7"/>
<line x1="182.4" y1="296.0" x2="279" y2="296.0" stroke="#eeb4b4" stroke-width="1.2" stroke-dasharray="5.6 2"/>
<line x1="184.6" y1="335.4" x2="184.6" y2="336.9" stroke="#666" stroke-width="0.7"/>
<line x1="201.0" y1="335.4" x2="201.0" y2="336.9" stroke="#666" stroke-width="0.7"/>
<line x1="217.4" y1="335.4" x2="217.4" y2="336.9" stroke="#666" stroke-width="0.7"/>
<line x1="233.8" y1="335.4" x2="233.8" y2="336.9" stroke="#666" stroke-width="0.7"/>
<line x1="250.2" y1="335.4" x2="250.2" y2="336.9" stroke="#666" stroke-width="0.7"/>
<line x1="266.6" y1="335.4" x2="266.6" y2="336.9" stroke="#666" stroke-width="0.7"/>
<polyline points="191.0,268.4 194.0,271.0 197.0,269.0 200.0,270.4 203.0,274.0 206.0,279.0 209.0,286.0 212.0,292.0 214.0,298.0 215.6,304.0 217.0,314.0 217.6,319.0 218.6,286.0 220.0,276.0 222.0,271.0 223.6,272.0 225.0,279.0 226.0,267.0 229.0,268.0 232.0,267.0 235.0,269.0 238.0,270.0 241.0,271.0 243.0,273.0 245.0,275.0 247.0,270.0 250.0,271.0 253.0,269.0 256.0,270.0 259.0,270.0 262.0,271.0 265.0,270.4 267.0,271.6" fill="none" stroke="#ff8448" stroke-width="1.3" stroke-linejoin="round"/>
<polyline points="191.0,271.0 194.0,274.0 197.0,270.0 200.0,272.0 203.0,280.0 206.0,285.0 209.0,290.0 212.0,298.0 214.0,303.0 215.6,306.0 217.0,310.0 218.6,280.0 221.0,274.0 223.0,276.0 225.0,285.0 226.4,270.0 230.0,269.0 233.0,269.0 236.0,272.0 239.0,274.0 242.0,278.0 244.4,283.6 247.0,274.0 250.0,272.0 252.0,273.0 254.0,269.6 257.0,271.6 261.0,273.0 264.0,273.6 267.0,274.4" fill="none" stroke="#0a870a" stroke-width="1.3" stroke-linejoin="round"/>
<rect x="214" y="263.0" width="1" height="1.4" fill="#222" shape-rendering="crispEdges"/>
<rect x="267" y="262.1" width="1" height="2.3" fill="#222" shape-rendering="crispEdges"/>
<rect x="224" y="262.5" width="1" height="1.9" fill="#222" shape-rendering="crispEdges"/>
<rect x="188" y="263.0" width="1" height="1.4" fill="#222" shape-rendering="crispEdges"/>
<rect x="197" y="262.5" width="1" height="1.9" fill="#222" shape-rendering="crispEdges"/>
<rect x="272" y="262.9" width="1" height="1.5" fill="#222" shape-rendering="crispEdges"/>
<rect x="228" y="263.2" width="1" height="1.2" fill="#222" shape-rendering="crispEdges"/>
<rect x="194" y="263.2" width="1" height="1.2" fill="#222" shape-rendering="crispEdges"/>
<rect x="206" y="263.2" width="1" height="1.2" fill="#222" shape-rendering="crispEdges"/>
<rect x="223" y="262.4" width="1" height="2.0" fill="#222" shape-rendering="crispEdges"/>
<rect x="246" y="263.5" width="1" height="0.9" fill="#222" shape-rendering="crispEdges"/>
<rect x="253" y="262.6" width="1" height="1.8" fill="#222" shape-rendering="crispEdges"/>
<rect x="247" y="262.8" width="1" height="1.6" fill="#222" shape-rendering="crispEdges"/>
<rect x="220" y="263.2" width="1" height="1.2" fill="#222" shape-rendering="crispEdges"/>
<rect x="260" y="262.6" width="1" height="1.8" fill="#222" shape-rendering="crispEdges"/>
<rect x="270" y="262.8" width="1" height="1.6" fill="#222" shape-rendering="crispEdges"/>
<rect x="203" y="263.4" width="1" height="1.0" fill="#222" shape-rendering="crispEdges"/>
<rect x="234" y="263.2" width="1" height="1.2" fill="#222" shape-rendering="crispEdges"/>
<rect x="242" y="263.1" width="1" height="1.3" fill="#222" shape-rendering="crispEdges"/>
<rect x="199" y="263.3" width="1" height="1.1" fill="#222" shape-rendering="crispEdges"/>
<rect x="204" y="263.0" width="1" height="1.4" fill="#222" shape-rendering="crispEdges"/>
<rect x="192" y="262.3" width="1" height="2.1" fill="#222" shape-rendering="crispEdges"/>
<rect x="196" y="260.2" width="1" height="4.2" fill="#111" shape-rendering="crispEdges"/>
<rect x="204" y="263.4" width="1" height="1.0" fill="#111" shape-rendering="crispEdges"/>
<rect x="210" y="263.4" width="1" height="1.0" fill="#111" shape-rendering="crispEdges"/>
<rect x="218" y="256.2" width="1" height="8.2" fill="#111" shape-rendering="crispEdges"/>
<rect x="219" y="259.4" width="1" height="5.0" fill="#111" shape-rendering="crispEdges"/>
<rect x="225" y="258.2" width="1" height="6.2" fill="#111" shape-rendering="crispEdges"/>
<rect x="227" y="259.8" width="1" height="4.6" fill="#111" shape-rendering="crispEdges"/>
<rect x="229" y="258.8" width="1" height="5.6" fill="#111" shape-rendering="crispEdges"/>
<rect x="231" y="261.4" width="1" height="3.0" fill="#111" shape-rendering="crispEdges"/>
<rect x="235" y="262.8" width="1" height="1.6" fill="#111" shape-rendering="crispEdges"/>
<rect x="242" y="262.8" width="1" height="1.6" fill="#111" shape-rendering="crispEdges"/>
<rect x="246" y="257.8" width="1" height="6.6" fill="#111" shape-rendering="crispEdges"/>
<rect x="252" y="260.8" width="1" height="3.6" fill="#111" shape-rendering="crispEdges"/>
<rect x="258" y="263.4" width="1" height="1.0" fill="#111" shape-rendering="crispEdges"/>
<rect x="262" y="263.4" width="1" height="1.0" fill="#111" shape-rendering="crispEdges"/>
<text transform="translate(186.0,329.1) scale(0.88,1)" font-size="9.5" fill="#222" class="t">2014</text>
<text transform="translate(180.4,348.0) scale(0.86,1)" font-size="9.3" fill="#222" class="t" text-anchor="middle">May</text>
<text transform="translate(196.9,348.0) scale(0.86,1)" font-size="9.3" fill="#222" class="t" text-anchor="middle">Jun</text>
<text transform="translate(212.7,348.0) scale(0.86,1)" font-size="9.3" fill="#222" class="t" text-anchor="middle">Jul</text>
<text transform="translate(229.1,348.0) scale(0.86,1)" font-size="9.3" fill="#222" class="t" text-anchor="middle">Aug</text>
<text transform="translate(245.9,348.0) scale(0.86,1)" font-size="9.3" fill="#222" class="t" text-anchor="middle">Sep</text>
<text transform="translate(261.7,348.0) scale(0.86,1)" font-size="9.3" fill="#222" class="t" text-anchor="middle">Oct</text>
<text x="178.0" y="254.4" font-size="7" fill="#222" class="t" text-anchor="end">80</text>
<line x1="180.6" y1="251.9" x2="181.8" y2="251.9" stroke="#666" stroke-width="0.7"/>
<text x="178.0" y="266.9" font-size="7" fill="#222" class="t" text-anchor="end">0</text>
<line x1="180.6" y1="264.4" x2="181.8" y2="264.4" stroke="#666" stroke-width="0.7"/>
<text x="178.0" y="282.7" font-size="7" fill="#222" class="t" text-anchor="end">200</text>
<line x1="164.0" y1="280.2" x2="165.5" y2="280.2" stroke="#222" stroke-width="0.8"/>
<line x1="180.6" y1="280.2" x2="181.8" y2="280.2" stroke="#666" stroke-width="0.7"/>
<text x="178.0" y="298.5" font-size="7" fill="#222" class="t" text-anchor="end">400</text>
<line x1="164.0" y1="296.0" x2="165.5" y2="296.0" stroke="#222" stroke-width="0.8"/>
<line x1="180.6" y1="296.0" x2="181.8" y2="296.0" stroke="#666" stroke-width="0.7"/>
<text x="178.0" y="314.2" font-size="7" fill="#222" class="t" text-anchor="end">600</text>
<line x1="164.0" y1="311.7" x2="165.5" y2="311.7" stroke="#222" stroke-width="0.8"/>
<line x1="180.6" y1="311.7" x2="181.8" y2="311.7" stroke="#666" stroke-width="0.7"/>
<text x="178.0" y="330.0" font-size="7" fill="#222" class="t" text-anchor="end">800</text>
<line x1="164.0" y1="327.5" x2="165.5" y2="327.5" stroke="#222" stroke-width="0.8"/>
<line x1="180.6" y1="327.5" x2="181.8" y2="327.5" stroke="#666" stroke-width="0.7"/>
<text transform="translate(147.6,257.5) rotate(-90)" font-size="8.4" fill="#222" class="t" text-anchor="middle">P</text>
<text transform="translate(157.1,256.4) rotate(-90)" font-size="8.4" fill="#222" class="t" text-anchor="middle">in mm</text>
<text transform="translate(148.6,305.1) rotate(-90)" font-size="8.4" fill="#222" class="t" text-anchor="middle">Pressure head</text>
<text transform="translate(157.1,304.4) rotate(-90)" font-size="8.4" fill="#222" class="t" text-anchor="middle">in cm</text>
<rect x="282.4" y="245.6" width="97.6" height="89.8" fill="#fff"/>
<path d="M282.4 335.4 V245.6 H380 V335.4" fill="none" stroke="#9a9a9a" stroke-width="1"/>
<line x1="282.4" y1="335.4" x2="380" y2="335.4" stroke="#888" stroke-width="0.9" stroke-dasharray="1.2 1.2"/>
<line x1="282.4" y1="264.4" x2="380" y2="264.4" stroke="#8a8a8a" stroke-width="0.7"/>
<line x1="282.4" y1="296.0" x2="380" y2="296.0" stroke="#eeb4b4" stroke-width="1.2" stroke-dasharray="5.6 2"/>
<line x1="284.6" y1="335.4" x2="284.6" y2="336.9" stroke="#666" stroke-width="0.7"/>
<line x1="301.0" y1="335.4" x2="301.0" y2="336.9" stroke="#666" stroke-width="0.7"/>
<line x1="317.4" y1="335.4" x2="317.4" y2="336.9" stroke="#666" stroke-width="0.7"/>
<line x1="333.8" y1="335.4" x2="333.8" y2="336.9" stroke="#666" stroke-width="0.7"/>
<line x1="350.2" y1="335.4" x2="350.2" y2="336.9" stroke="#666" stroke-width="0.7"/>
<line x1="366.6" y1="335.4" x2="366.6" y2="336.9" stroke="#666" stroke-width="0.7"/>
<polyline points="292.0,271.0 295.0,272.0 298.0,271.0 301.0,269.0 304.0,270.0 307.0,270.4 310.0,271.6 312.0,269.0 314.0,271.0 316.0,275.0 318.0,279.0 319.6,284.0 321.0,272.0 323.0,269.0 326.0,270.0 329.0,270.0 332.0,273.0 335.0,276.0 338.0,283.0 341.0,292.0 343.6,302.0 345.0,305.0 346.4,289.0 348.0,294.0 349.6,299.0 351.0,304.0 353.0,314.0 354.4,323.0 355.6,306.0 356.4,269.0 359.0,270.0 362.0,273.0 364.4,276.0 366.0,272.0 369.0,269.0 372.0,271.0" fill="none" stroke="#ff8448" stroke-width="1.3" stroke-linejoin="round"/>
<polyline points="292.0,282.0 293.6,287.0 294.4,282.0 295.6,288.0 298.0,278.0 301.0,269.6 304.0,273.0 307.0,274.0 310.0,275.0 312.0,272.0 315.0,277.0 317.6,284.0 319.6,291.0 321.6,272.0 325.0,272.0 329.0,271.0 332.0,274.0 335.0,280.0 338.0,285.0 341.0,293.0 343.6,301.0 345.0,294.0 346.6,287.0 348.6,293.0 351.0,295.0 352.0,301.0 354.0,300.0 355.6,310.0 356.4,269.0 359.0,271.0 362.0,275.0 364.0,280.0 366.0,274.0 369.0,271.0 372.0,271.0" fill="none" stroke="#0a870a" stroke-width="1.3" stroke-linejoin="round"/>
<rect x="352" y="262.9" width="1" height="1.5" fill="#222" shape-rendering="crispEdges"/>
<rect x="366" y="262.2" width="1" height="2.2" fill="#222" shape-rendering="crispEdges"/>
<rect x="309" y="262.5" width="1" height="1.9" fill="#222" shape-rendering="crispEdges"/>
<rect x="369" y="263.5" width="1" height="0.9" fill="#222" shape-rendering="crispEdges"/>
<rect x="312" y="263.5" width="1" height="0.9" fill="#222" shape-rendering="crispEdges"/>
<rect x="330" y="262.8" width="1" height="1.6" fill="#222" shape-rendering="crispEdges"/>
<rect x="313" y="263.4" width="1" height="1.0" fill="#222" shape-rendering="crispEdges"/>
<rect x="305" y="263.3" width="1" height="1.1" fill="#222" shape-rendering="crispEdges"/>
<rect x="301" y="262.9" width="1" height="1.5" fill="#222" shape-rendering="crispEdges"/>
<rect x="350" y="263.5" width="1" height="0.9" fill="#222" shape-rendering="crispEdges"/>
<rect x="342" y="263.2" width="1" height="1.2" fill="#222" shape-rendering="crispEdges"/>
<rect x="340" y="262.2" width="1" height="2.2" fill="#222" shape-rendering="crispEdges"/>
<rect x="355" y="263.5" width="1" height="0.9" fill="#222" shape-rendering="crispEdges"/>
<rect x="337" y="263.3" width="1" height="1.1" fill="#222" shape-rendering="crispEdges"/>
<rect x="314" y="262.6" width="1" height="1.8" fill="#222" shape-rendering="crispEdges"/>
<rect x="292" y="262.4" width="1" height="2.0" fill="#222" shape-rendering="crispEdges"/>
<rect x="295" y="262.8" width="1" height="1.6" fill="#222" shape-rendering="crispEdges"/>
<rect x="289" y="262.7" width="1" height="1.7" fill="#222" shape-rendering="crispEdges"/>
<rect x="363" y="263.0" width="1" height="1.4" fill="#222" shape-rendering="crispEdges"/>
<rect x="346" y="263.0" width="1" height="1.4" fill="#222" shape-rendering="crispEdges"/>
<rect x="321" y="262.8" width="1" height="1.6" fill="#222" shape-rendering="crispEdges"/>
<rect x="309" y="262.5" width="1" height="1.9" fill="#222" shape-rendering="crispEdges"/>
<rect x="293" y="263.6" width="1" height="0.8" fill="#111" shape-rendering="crispEdges"/>
<rect x="298" y="259.6" width="1" height="4.8" fill="#111" shape-rendering="crispEdges"/>
<rect x="301" y="261.6" width="1" height="2.8" fill="#111" shape-rendering="crispEdges"/>
<rect x="308" y="263.0" width="1" height="1.4" fill="#111" shape-rendering="crispEdges"/>
<rect x="311" y="263.0" width="1" height="1.4" fill="#111" shape-rendering="crispEdges"/>
<rect x="320" y="261.6" width="1" height="2.8" fill="#111" shape-rendering="crispEdges"/>
<rect x="324" y="262.0" width="1" height="2.4" fill="#111" shape-rendering="crispEdges"/>
<rect x="327" y="259.0" width="1" height="5.4" fill="#111" shape-rendering="crispEdges"/>
<rect x="329" y="262.4" width="1" height="2.0" fill="#111" shape-rendering="crispEdges"/>
<rect x="336" y="263.6" width="1" height="0.8" fill="#111" shape-rendering="crispEdges"/>
<rect x="342" y="263.6" width="1" height="0.8" fill="#111" shape-rendering="crispEdges"/>
<rect x="346" y="261.0" width="1" height="3.4" fill="#111" shape-rendering="crispEdges"/>
<rect x="356" y="257.0" width="1" height="7.4" fill="#111" shape-rendering="crispEdges"/>
<rect x="364" y="263.0" width="1" height="1.4" fill="#111" shape-rendering="crispEdges"/>
<rect x="367" y="263.0" width="1" height="1.4" fill="#111" shape-rendering="crispEdges"/>
<text transform="translate(286.0,329.1) scale(0.88,1)" font-size="9.5" fill="#222" class="t">2016</text>
<text transform="translate(280.4,348.0) scale(0.86,1)" font-size="9.3" fill="#222" class="t" text-anchor="middle">May</text>
<text transform="translate(296.9,348.0) scale(0.86,1)" font-size="9.3" fill="#222" class="t" text-anchor="middle">Jun</text>
<text transform="translate(312.7,348.0) scale(0.86,1)" font-size="9.3" fill="#222" class="t" text-anchor="middle">Jul</text>
<text transform="translate(329.1,348.0) scale(0.86,1)" font-size="9.3" fill="#222" class="t" text-anchor="middle">Aug</text>
<text transform="translate(345.9,348.0) scale(0.86,1)" font-size="9.3" fill="#222" class="t" text-anchor="middle">Sep</text>
<text transform="translate(361.7,348.0) scale(0.86,1)" font-size="9.3" fill="#222" class="t" text-anchor="middle">Oct</text>
<rect x="81.5" y="366.2" width="97.1" height="90.1" fill="#fff"/>
<path d="M81.5 366.2 H178.6 V456.3" fill="none" stroke="#9a9a9a" stroke-width="1"/>
<line x1="81.5" y1="366.2" x2="81.5" y2="456.3" stroke="#b4b4b4" stroke-width="0.9"/>
<line x1="81.5" y1="456.3" x2="178.6" y2="456.3" stroke="#888" stroke-width="0.9" stroke-dasharray="1.2 1.2"/>
<line x1="81.5" y1="385.0" x2="178.6" y2="385.0" stroke="#8a8a8a" stroke-width="0.7"/>
<line x1="81.5" y1="416.6" x2="178.6" y2="416.6" stroke="#eeb4b4" stroke-width="1.2" stroke-dasharray="5.6 2"/>
<line x1="83.7" y1="456.3" x2="83.7" y2="457.8" stroke="#666" stroke-width="0.7"/>
<line x1="100.1" y1="456.3" x2="100.1" y2="457.8" stroke="#666" stroke-width="0.7"/>
<line x1="116.5" y1="456.3" x2="116.5" y2="457.8" stroke="#666" stroke-width="0.7"/>
<line x1="132.9" y1="456.3" x2="132.9" y2="457.8" stroke="#666" stroke-width="0.7"/>
<line x1="149.3" y1="456.3" x2="149.3" y2="457.8" stroke="#666" stroke-width="0.7"/>
<line x1="165.7" y1="456.3" x2="165.7" y2="457.8" stroke="#666" stroke-width="0.7"/>
<polyline points="87.0,393.0 89.0,395.6 91.0,394.4 93.0,396.0 95.0,395.0 97.0,397.0 99.0,395.0 101.0,399.0 102.6,406.0 104.6,414.0 106.0,424.0 107.0,428.0 108.0,432.0 109.0,424.0 110.6,413.0 112.0,420.0 113.4,434.0 115.0,437.0 116.6,439.0 118.0,426.0 119.4,422.0 121.0,428.0 123.0,424.0 125.0,429.0 126.6,418.0 128.6,411.0 130.6,412.0 132.0,406.0 134.0,411.0 136.0,408.0 137.4,415.0 139.0,405.0 141.0,402.4" fill="none" stroke="#ff8448" stroke-width="1.3" stroke-linejoin="round"/>
<polyline points="87.0,407.6 88.6,417.0 90.0,419.0 92.0,425.0 94.0,430.0 95.4,437.0 98.0,434.0 99.4,435.0 101.0,428.0 102.6,437.0 104.6,438.0 106.0,440.0 108.0,448.0 109.4,446.0 111.0,424.0 112.6,434.0 114.0,437.0 116.0,434.0 118.0,416.0 119.4,432.0 121.0,414.0 122.6,430.0 124.6,418.0 126.0,426.0 127.4,412.0 129.0,400.0 130.6,426.0 132.0,409.0 133.0,426.0 134.0,403.0 135.4,412.0 137.0,404.0 139.0,414.0 140.6,408.0 141.0,415.6" fill="none" stroke="#0a870a" stroke-width="1.3" stroke-linejoin="round"/>
<rect x="125" y="382.7" width="1" height="2.3" fill="#222" shape-rendering="crispEdges"/>
<rect x="127" y="383.0" width="1" height="2.0" fill="#222" shape-rendering="crispEdges"/>
<rect x="155" y="382.7" width="1" height="2.3" fill="#222" shape-rendering="crispEdges"/>
<rect x="108" y="382.9" width="1" height="2.1" fill="#222" shape-rendering="crispEdges"/>
<rect x="136" y="384.0" width="1" height="1.0" fill="#222" shape-rendering="crispEdges"/>
<rect x="152" y="383.9" width="1" height="1.1" fill="#222" shape-rendering="crispEdges"/>
<rect x="158" y="384.0" width="1" height="1.0" fill="#222" shape-rendering="crispEdges"/>
<rect x="144" y="383.1" width="1" height="1.9" fill="#222" shape-rendering="crispEdges"/>
<rect x="116" y="383.5" width="1" height="1.5" fill="#222" shape-rendering="crispEdges"/>
<rect x="171" y="383.9" width="1" height="1.1" fill="#222" shape-rendering="crispEdges"/>
<rect x="156" y="382.8" width="1" height="2.2" fill="#222" shape-rendering="crispEdges"/>
<rect x="139" y="383.3" width="1" height="1.7" fill="#222" shape-rendering="crispEdges"/>
<rect x="124" y="382.7" width="1" height="2.3" fill="#222" shape-rendering="crispEdges"/>
<rect x="148" y="382.7" width="1" height="2.3" fill="#222" shape-rendering="crispEdges"/>
<rect x="150" y="382.7" width="1" height="2.3" fill="#222" shape-rendering="crispEdges"/>
<rect x="128" y="382.8" width="1" height="2.2" fill="#222" shape-rendering="crispEdges"/>
<rect x="137" y="382.6" width="1" height="2.4" fill="#222" shape-rendering="crispEdges"/>
<rect x="105" y="384.0" width="1" height="1.0" fill="#222" shape-rendering="crispEdges"/>
<rect x="125" y="384.1" width="1" height="0.9" fill="#222" shape-rendering="crispEdges"/>
<rect x="131" y="383.9" width="1" height="1.1" fill="#222" shape-rendering="crispEdges"/>
<rect x="127" y="382.8" width="1" height="2.2" fill="#222" shape-rendering="crispEdges"/>
<rect x="158" y="383.7" width="1" height="1.3" fill="#222" shape-rendering="crispEdges"/>
<rect x="95" y="383.6" width="1" height="1.4" fill="#111" shape-rendering="crispEdges"/>
<rect x="103" y="384.0" width="1" height="1.0" fill="#111" shape-rendering="crispEdges"/>
<rect x="116" y="384.0" width="1" height="1.0" fill="#111" shape-rendering="crispEdges"/>
<rect x="123" y="381.2" width="1" height="3.8" fill="#111" shape-rendering="crispEdges"/>
<rect x="135" y="384.0" width="1" height="1.0" fill="#111" shape-rendering="crispEdges"/>
<rect x="151" y="383.2" width="1" height="1.8" fill="#111" shape-rendering="crispEdges"/>
<rect x="157" y="383.6" width="1" height="1.4" fill="#111" shape-rendering="crispEdges"/>
<rect x="170" y="384.0" width="1" height="1.0" fill="#111" shape-rendering="crispEdges"/>
<text transform="translate(85.1,450.0) scale(0.88,1)" font-size="9.5" fill="#222" class="t">2000</text>
<text transform="translate(79.5,468.9) scale(0.86,1)" font-size="9.3" fill="#222" class="t" text-anchor="middle">May</text>
<text transform="translate(96.0,468.9) scale(0.86,1)" font-size="9.3" fill="#222" class="t" text-anchor="middle">Jun</text>
<text transform="translate(111.8,468.9) scale(0.86,1)" font-size="9.3" fill="#222" class="t" text-anchor="middle">Jul</text>
<text transform="translate(128.2,468.9) scale(0.86,1)" font-size="9.3" fill="#222" class="t" text-anchor="middle">Aug</text>
<text transform="translate(145.0,468.9) scale(0.86,1)" font-size="9.3" fill="#222" class="t" text-anchor="middle">Sep</text>
<text transform="translate(160.8,468.9) scale(0.86,1)" font-size="9.3" fill="#222" class="t" text-anchor="middle">Oct</text>
<text x="77.1" y="375.0" font-size="7" fill="#222" class="t" text-anchor="end">80</text>
<line x1="79.7" y1="372.5" x2="80.9" y2="372.5" stroke="#666" stroke-width="0.7"/>
<text x="77.1" y="387.5" font-size="7" fill="#222" class="t" text-anchor="end">0</text>
<line x1="79.7" y1="385.0" x2="80.9" y2="385.0" stroke="#666" stroke-width="0.7"/>
<text x="77.1" y="403.3" font-size="7" fill="#222" class="t" text-anchor="end">200</text>
<line x1="63.1" y1="400.8" x2="64.6" y2="400.8" stroke="#222" stroke-width="0.8"/>
<line x1="79.7" y1="400.8" x2="80.9" y2="400.8" stroke="#666" stroke-width="0.7"/>
<text x="77.1" y="419.1" font-size="7" fill="#222" class="t" text-anchor="end">400</text>
<line x1="63.1" y1="416.6" x2="64.6" y2="416.6" stroke="#222" stroke-width="0.8"/>
<line x1="79.7" y1="416.6" x2="80.9" y2="416.6" stroke="#666" stroke-width="0.7"/>
<text x="77.1" y="434.8" font-size="7" fill="#222" class="t" text-anchor="end">600</text>
<line x1="63.1" y1="432.3" x2="64.6" y2="432.3" stroke="#222" stroke-width="0.8"/>
<line x1="79.7" y1="432.3" x2="80.9" y2="432.3" stroke="#666" stroke-width="0.7"/>
<text x="77.1" y="450.6" font-size="7" fill="#222" class="t" text-anchor="end">800</text>
<line x1="63.1" y1="448.1" x2="64.6" y2="448.1" stroke="#222" stroke-width="0.8"/>
<line x1="79.7" y1="448.1" x2="80.9" y2="448.1" stroke="#666" stroke-width="0.7"/>
<text transform="translate(48.6,376.2) rotate(-90)" font-size="8.4" fill="#222" class="t" text-anchor="middle">P</text>
<text transform="translate(58.5,375.0) rotate(-90)" font-size="8.4" fill="#222" class="t" text-anchor="middle">in mm</text>
<text transform="translate(49.699999999999996,424.3) rotate(-90)" font-size="8.4" fill="#222" class="t" text-anchor="middle">Pressure head</text>
<text transform="translate(58.5,422.8) rotate(-90)" font-size="8.4" fill="#222" class="t" text-anchor="middle">in cm</text>
<rect x="181.4" y="366.2" width="97.4" height="90.1" fill="#fff"/>
<path d="M181.4 456.3 V366.2 H278.8 V456.3" fill="none" stroke="#9a9a9a" stroke-width="1"/>
<line x1="181.4" y1="456.3" x2="278.8" y2="456.3" stroke="#888" stroke-width="0.9" stroke-dasharray="1.2 1.2"/>
<line x1="181.4" y1="385.0" x2="278.8" y2="385.0" stroke="#999" stroke-width="0.8" stroke-dasharray="1.5 0.8"/>
<line x1="181.4" y1="416.6" x2="278.8" y2="416.6" stroke="#e8a0a0" stroke-width="1.2" stroke-dasharray="5.6 2"/>
<line x1="183.6" y1="456.3" x2="183.6" y2="457.8" stroke="#666" stroke-width="0.7"/>
<line x1="200.0" y1="456.3" x2="200.0" y2="457.8" stroke="#666" stroke-width="0.7"/>
<line x1="216.4" y1="456.3" x2="216.4" y2="457.8" stroke="#666" stroke-width="0.7"/>
<line x1="232.8" y1="456.3" x2="232.8" y2="457.8" stroke="#666" stroke-width="0.7"/>
<line x1="249.2" y1="456.3" x2="249.2" y2="457.8" stroke="#666" stroke-width="0.7"/>
<line x1="265.6" y1="456.3" x2="265.6" y2="457.8" stroke="#666" stroke-width="0.7"/>
<polyline points="184.0,388.0 187.0,391.0 190.0,392.0 192.0,389.6 195.0,393.0 198.0,392.0 200.0,389.0 202.6,392.0 204.6,389.0 207.0,394.0 209.0,391.0 211.0,395.0 214.0,396.0 217.0,401.0 219.0,407.0 221.0,408.0 223.0,406.0 225.0,392.0 227.0,396.0 229.0,406.0 231.0,413.0 233.0,416.0 234.6,432.0 236.0,416.0 237.4,430.0 239.0,425.0 241.0,428.0 243.0,435.0 244.6,443.0 246.0,432.0 247.0,418.0 248.6,431.0 250.0,426.0 251.0,412.0 253.0,401.0 255.0,393.0 258.0,392.0 261.0,397.0 264.0,387.0 267.0,387.6 271.0,388.4 275.0,389.0 278.0,389.6" fill="none" stroke="#ff8448" stroke-width="1.3" stroke-linejoin="round"/>
<polyline points="184.0,389.0 187.0,392.0 191.0,391.0 194.0,394.0 197.0,395.0 200.0,396.0 202.0,399.0 203.4,394.0 205.0,399.0 207.0,392.0 209.0,392.0 212.0,395.0 215.0,396.0 218.0,402.0 220.0,409.0 222.0,407.0 223.4,400.0 224.6,407.0 226.0,396.0 228.6,402.0 231.0,405.0 234.0,408.0 236.0,411.0 237.4,409.0 239.0,418.4 241.0,411.0 243.0,409.0 244.6,415.0 246.6,406.0 249.0,406.0 251.0,399.0 253.4,394.0 256.0,391.0 259.0,394.0 262.0,396.0 265.0,389.0 268.0,393.0 271.0,391.6 275.0,392.0 278.0,391.0" fill="none" stroke="#0a870a" stroke-width="1.3" stroke-linejoin="round"/>
<rect x="237" y="383.6" width="1" height="1.4" fill="#222" shape-rendering="crispEdges"/>
<rect x="190" y="383.2" width="1" height="1.8" fill="#222" shape-rendering="crispEdges"/>
<rect x="270" y="383.3" width="1" height="1.7" fill="#222" shape-rendering="crispEdges"/>
<rect x="236" y="383.0" width="1" height="2.0" fill="#222" shape-rendering="crispEdges"/>
<rect x="241" y="383.2" width="1" height="1.8" fill="#222" shape-rendering="crispEdges"/>
<rect x="208" y="384.0" width="1" height="1.0" fill="#222" shape-rendering="crispEdges"/>
<rect x="242" y="384.1" width="1" height="0.9" fill="#222" shape-rendering="crispEdges"/>
<rect x="268" y="383.5" width="1" height="1.5" fill="#222" shape-rendering="crispEdges"/>
<rect x="244" y="383.6" width="1" height="1.4" fill="#222" shape-rendering="crispEdges"/>
<rect x="218" y="382.7" width="1" height="2.3" fill="#222" shape-rendering="crispEdges"/>
<rect x="227" y="383.8" width="1" height="1.2" fill="#222" shape-rendering="crispEdges"/>
<rect x="248" y="383.5" width="1" height="1.5" fill="#222" shape-rendering="crispEdges"/>
<rect x="207" y="383.2" width="1" height="1.8" fill="#222" shape-rendering="crispEdges"/>
<rect x="197" y="382.9" width="1" height="2.1" fill="#222" shape-rendering="crispEdges"/>
<rect x="259" y="383.9" width="1" height="1.1" fill="#222" shape-rendering="crispEdges"/>
<rect x="204" y="382.7" width="1" height="2.3" fill="#222" shape-rendering="crispEdges"/>
<rect x="211" y="382.9" width="1" height="2.1" fill="#222" shape-rendering="crispEdges"/>
<rect x="244" y="383.7" width="1" height="1.3" fill="#222" shape-rendering="crispEdges"/>
<rect x="246" y="384.2" width="1" height="0.8" fill="#222" shape-rendering="crispEdges"/>
<rect x="214" y="382.9" width="1" height="2.1" fill="#222" shape-rendering="crispEdges"/>
<rect x="273" y="383.0" width="1" height="2.0" fill="#222" shape-rendering="crispEdges"/>
<rect x="217" y="382.7" width="1" height="2.3" fill="#222" shape-rendering="crispEdges"/>
<rect x="189" y="383.6" width="1" height="1.4" fill="#111" shape-rendering="crispEdges"/>
<rect x="198" y="383.6" width="1" height="1.4" fill="#111" shape-rendering="crispEdges"/>
<rect x="203" y="383.0" width="1" height="2.0" fill="#111" shape-rendering="crispEdges"/>
<rect x="211" y="383.6" width="1" height="1.4" fill="#111" shape-rendering="crispEdges"/>
<rect x="220" y="382.4" width="1" height="2.6" fill="#111" shape-rendering="crispEdges"/>
<rect x="223" y="383.0" width="1" height="2.0" fill="#111" shape-rendering="crispEdges"/>
<rect x="231" y="383.6" width="1" height="1.4" fill="#111" shape-rendering="crispEdges"/>
<rect x="239" y="383.6" width="1" height="1.4" fill="#111" shape-rendering="crispEdges"/>
<rect x="246" y="381.0" width="1" height="4.0" fill="#111" shape-rendering="crispEdges"/>
<rect x="250" y="383.0" width="1" height="2.0" fill="#111" shape-rendering="crispEdges"/>
<rect x="256" y="383.6" width="1" height="1.4" fill="#111" shape-rendering="crispEdges"/>
<text transform="translate(185.0,450.0) scale(0.88,1)" font-size="9.5" fill="#222" class="t">2001</text>
<text transform="translate(179.4,468.9) scale(0.86,1)" font-size="9.3" fill="#222" class="t" text-anchor="middle">May</text>
<text transform="translate(195.9,468.9) scale(0.86,1)" font-size="9.3" fill="#222" class="t" text-anchor="middle">Jun</text>
<text transform="translate(211.7,468.9) scale(0.86,1)" font-size="9.3" fill="#222" class="t" text-anchor="middle">Jul</text>
<text transform="translate(228.1,468.9) scale(0.86,1)" font-size="9.3" fill="#222" class="t" text-anchor="middle">Aug</text>
<text transform="translate(244.9,468.9) scale(0.86,1)" font-size="9.3" fill="#222" class="t" text-anchor="middle">Sep</text>
<text transform="translate(260.7,468.9) scale(0.86,1)" font-size="9.3" fill="#222" class="t" text-anchor="middle">Oct</text>
<rect x="284" y="366.2" width="97.4" height="90.1" fill="#fff"/>
<path d="M284 456.3 V366.2 H381.4 V456.3" fill="none" stroke="#9a9a9a" stroke-width="1"/>
<line x1="284" y1="456.3" x2="381.4" y2="456.3" stroke="#888" stroke-width="0.9" stroke-dasharray="1.2 1.2"/>
<line x1="284" y1="385.0" x2="381.4" y2="385.0" stroke="#8a8a8a" stroke-width="0.7"/>
<line x1="284" y1="416.6" x2="381.4" y2="416.6" stroke="#e8a0a0" stroke-width="1.2" stroke-dasharray="5.6 2"/>
<line x1="286.2" y1="456.3" x2="286.2" y2="457.8" stroke="#666" stroke-width="0.7"/>
<line x1="302.6" y1="456.3" x2="302.6" y2="457.8" stroke="#666" stroke-width="0.7"/>
<line x1="319.0" y1="456.3" x2="319.0" y2="457.8" stroke="#666" stroke-width="0.7"/>
<line x1="335.4" y1="456.3" x2="335.4" y2="457.8" stroke="#666" stroke-width="0.7"/>
<line x1="351.8" y1="456.3" x2="351.8" y2="457.8" stroke="#666" stroke-width="0.7"/>
<line x1="368.2" y1="456.3" x2="368.2" y2="457.8" stroke="#666" stroke-width="0.7"/>
<polyline points="293.0,391.0 296.0,392.0 299.0,391.6 302.0,391.0 304.0,390.4 307.0,392.0 310.0,392.4 313.0,395.0 316.0,399.0 319.0,403.0 321.0,404.0 324.0,402.0 326.0,409.0 328.0,417.0 330.0,426.0 332.0,436.0 333.6,443.0 335.6,435.0 338.0,436.0 340.4,446.0 342.0,439.0 344.0,445.0 346.0,438.0 347.6,445.0 349.0,451.0 350.4,442.0 352.0,426.0 353.6,428.0 355.0,442.0 357.0,444.0 359.0,443.0 361.0,434.0 363.0,426.0 365.0,430.0 367.0,436.0 369.0,440.0 371.0,443.0 373.6,427.0 375.0,428.0 376.4,409.0" fill="none" stroke="#ff8448" stroke-width="1.3" stroke-linejoin="round"/>
<polyline points="293.0,392.0 295.0,395.0 298.0,395.0 301.0,394.0 304.0,391.0 307.0,394.0 310.0,397.0 314.0,400.0 317.0,404.0 320.0,408.0 323.0,411.0 326.0,413.0 328.0,417.0 330.0,422.0 333.0,430.0 335.6,432.0 338.0,435.0 340.4,434.0 342.0,437.0 344.0,435.0 346.4,438.0 348.0,444.0 349.0,447.0 351.0,438.0 353.0,434.0 354.0,437.0 356.0,440.0 358.0,443.0 359.6,437.0 361.0,446.0 362.4,420.0 364.0,421.0 367.0,426.0 369.0,428.0 371.0,426.0 373.0,425.0 375.0,425.0 377.0,420.0" fill="none" stroke="#0a870a" stroke-width="1.3" stroke-linejoin="round"/>
<rect x="334" y="382.9" width="1" height="2.1" fill="#222" shape-rendering="crispEdges"/>
<rect x="306" y="383.6" width="1" height="1.4" fill="#222" shape-rendering="crispEdges"/>
<rect x="347" y="383.2" width="1" height="1.8" fill="#222" shape-rendering="crispEdges"/>
<rect x="341" y="382.8" width="1" height="2.2" fill="#222" shape-rendering="crispEdges"/>
<rect x="302" y="383.4" width="1" height="1.6" fill="#222" shape-rendering="crispEdges"/>
<rect x="367" y="382.9" width="1" height="2.1" fill="#222" shape-rendering="crispEdges"/>
<rect x="347" y="382.8" width="1" height="2.2" fill="#222" shape-rendering="crispEdges"/>
<rect x="326" y="383.2" width="1" height="1.8" fill="#222" shape-rendering="crispEdges"/>
<rect x="293" y="383.2" width="1" height="1.8" fill="#222" shape-rendering="crispEdges"/>
<rect x="339" y="383.6" width="1" height="1.4" fill="#222" shape-rendering="crispEdges"/>
<rect x="364" y="384.0" width="1" height="1.0" fill="#222" shape-rendering="crispEdges"/>
<rect x="294" y="384.0" width="1" height="1.0" fill="#222" shape-rendering="crispEdges"/>
<rect x="367" y="383.4" width="1" height="1.6" fill="#222" shape-rendering="crispEdges"/>
<rect x="312" y="383.2" width="1" height="1.8" fill="#222" shape-rendering="crispEdges"/>
<rect x="318" y="383.3" width="1" height="1.7" fill="#222" shape-rendering="crispEdges"/>
<rect x="355" y="383.7" width="1" height="1.3" fill="#222" shape-rendering="crispEdges"/>
<rect x="335" y="383.5" width="1" height="1.5" fill="#222" shape-rendering="crispEdges"/>
<rect x="318" y="383.3" width="1" height="1.7" fill="#222" shape-rendering="crispEdges"/>
<rect x="341" y="383.3" width="1" height="1.7" fill="#222" shape-rendering="crispEdges"/>
<rect x="332" y="382.7" width="1" height="2.3" fill="#222" shape-rendering="crispEdges"/>
<rect x="333" y="383.5" width="1" height="1.5" fill="#222" shape-rendering="crispEdges"/>
<rect x="358" y="383.3" width="1" height="1.7" fill="#222" shape-rendering="crispEdges"/>
<rect x="295" y="384.8" width="1" height="0.2" fill="#111" shape-rendering="crispEdges"/>
<rect x="301" y="380.0" width="1" height="5.0" fill="#111" shape-rendering="crispEdges"/>
<rect x="302" y="383.4" width="1" height="1.6" fill="#111" shape-rendering="crispEdges"/>
<rect x="311" y="384.8" width="1" height="0.2" fill="#111" shape-rendering="crispEdges"/>
<rect x="321" y="384.0" width="1" height="1.0" fill="#111" shape-rendering="crispEdges"/>
<rect x="326" y="384.4" width="1" height="0.6" fill="#111" shape-rendering="crispEdges"/>
<rect x="346" y="384.8" width="1" height="0.2" fill="#111" shape-rendering="crispEdges"/>
<rect x="360" y="380.8" width="1" height="4.2" fill="#111" shape-rendering="crispEdges"/>
<rect x="361" y="384.0" width="1" height="1.0" fill="#111" shape-rendering="crispEdges"/>
<rect x="368" y="384.8" width="1" height="0.2" fill="#111" shape-rendering="crispEdges"/>
<rect x="373" y="383.4" width="1" height="1.6" fill="#111" shape-rendering="crispEdges"/>
<text transform="translate(287.6,450.0) scale(0.88,1)" font-size="9.5" fill="#222" class="t">2004</text>
<text transform="translate(282.0,468.9) scale(0.86,1)" font-size="9.3" fill="#222" class="t" text-anchor="middle">May</text>
<text transform="translate(298.5,468.9) scale(0.86,1)" font-size="9.3" fill="#222" class="t" text-anchor="middle">Jun</text>
<text transform="translate(314.3,468.9) scale(0.86,1)" font-size="9.3" fill="#222" class="t" text-anchor="middle">Jul</text>
<text transform="translate(330.7,468.9) scale(0.86,1)" font-size="9.3" fill="#222" class="t" text-anchor="middle">Aug</text>
<text transform="translate(347.5,468.9) scale(0.86,1)" font-size="9.3" fill="#222" class="t" text-anchor="middle">Sep</text>
<text transform="translate(363.3,468.9) scale(0.86,1)" font-size="9.3" fill="#222" class="t" text-anchor="middle">Oct</text>
<rect x="385.6" y="366.2" width="96.9" height="90.1" fill="#fff"/>
<path d="M385.6 456.3 V366.2 H482.5 V456.3" fill="none" stroke="#9a9a9a" stroke-width="1"/>
<line x1="385.6" y1="456.3" x2="482.5" y2="456.3" stroke="#888" stroke-width="0.9" stroke-dasharray="1.2 1.2"/>
<line x1="385.6" y1="385.0" x2="482.5" y2="385.0" stroke="#8a8a8a" stroke-width="0.7"/>
<line x1="385.6" y1="416.6" x2="482.5" y2="416.6" stroke="#eeb4b4" stroke-width="1.2" stroke-dasharray="5.6 2"/>
<line x1="387.8" y1="456.3" x2="387.8" y2="457.8" stroke="#666" stroke-width="0.7"/>
<line x1="404.2" y1="456.3" x2="404.2" y2="457.8" stroke="#666" stroke-width="0.7"/>
<line x1="420.6" y1="456.3" x2="420.6" y2="457.8" stroke="#666" stroke-width="0.7"/>
<line x1="437.0" y1="456.3" x2="437.0" y2="457.8" stroke="#666" stroke-width="0.7"/>
<line x1="453.4" y1="456.3" x2="453.4" y2="457.8" stroke="#666" stroke-width="0.7"/>
<line x1="469.8" y1="456.3" x2="469.8" y2="457.8" stroke="#666" stroke-width="0.7"/>
<polyline points="389.0,389.6 392.0,391.0 395.0,392.0 398.0,391.0 401.0,392.0 403.0,390.4 406.0,392.0 408.0,394.0 410.0,399.0 413.0,406.0 415.0,409.0 417.0,414.0 419.0,421.0 421.0,417.0 422.6,413.0 424.0,415.0 425.0,422.0 426.6,435.0 428.0,445.0 429.4,420.0 431.0,423.0 433.0,436.0 434.6,448.0 436.0,452.0 437.4,444.0 439.0,442.0 440.6,436.0 442.0,439.0 443.4,448.0 444.6,454.0 446.0,443.0 447.4,448.0 448.6,450.0 450.0,444.0 451.4,454.0 452.6,452.0 453.4,398.0 455.0,392.0 457.0,391.0 460.0,394.0 463.0,400.0 465.0,397.0 468.0,395.0 471.0,395.6 474.0,396.0 477.4,394.0" fill="none" stroke="#ff8448" stroke-width="1.3" stroke-linejoin="round"/>
<polyline points="389.0,407.0 391.0,400.0 393.0,398.0 396.0,401.0 399.0,405.0 402.0,402.0 405.0,401.6 407.0,406.0 409.0,405.0 411.0,411.0 413.0,418.0 415.0,421.0 417.0,426.0 419.0,430.0 421.0,432.0 423.0,431.0 424.6,433.0 426.0,428.0 428.0,434.0 430.0,421.0 432.6,423.0 435.0,428.0 437.4,432.0 438.6,442.0 440.6,435.0 442.6,436.0 445.0,429.0 446.6,431.0 449.0,435.0 451.0,438.0 452.4,440.0 453.6,394.0 456.0,394.0 459.0,394.0 462.0,399.0 464.0,401.0 467.0,398.0 471.0,399.0 474.0,402.0 476.0,404.0 477.4,402.0" fill="none" stroke="#0a870a" stroke-width="1.3" stroke-linejoin="round"/>
<rect x="407" y="383.1" width="1" height="1.9" fill="#222" shape-rendering="crispEdges"/>
<rect x="466" y="382.8" width="1" height="2.2" fill="#222" shape-rendering="crispEdges"/>
<rect x="465" y="383.2" width="1" height="1.8" fill="#222" shape-rendering="crispEdges"/>
<rect x="451" y="383.6" width="1" height="1.4" fill="#222" shape-rendering="crispEdges"/>
<rect x="438" y="383.9" width="1" height="1.1" fill="#222" shape-rendering="crispEdges"/>
<rect x="472" y="384.1" width="1" height="0.9" fill="#222" shape-rendering="crispEdges"/>
<rect x="431" y="382.8" width="1" height="2.2" fill="#222" shape-rendering="crispEdges"/>
<rect x="441" y="384.2" width="1" height="0.8" fill="#222" shape-rendering="crispEdges"/>
<rect x="396" y="382.9" width="1" height="2.1" fill="#222" shape-rendering="crispEdges"/>
<rect x="413" y="382.6" width="1" height="2.4" fill="#222" shape-rendering="crispEdges"/>
<rect x="449" y="383.1" width="1" height="1.9" fill="#222" shape-rendering="crispEdges"/>
<rect x="418" y="382.8" width="1" height="2.2" fill="#222" shape-rendering="crispEdges"/>
<rect x="423" y="383.9" width="1" height="1.1" fill="#222" shape-rendering="crispEdges"/>
<rect x="397" y="382.8" width="1" height="2.2" fill="#222" shape-rendering="crispEdges"/>
<rect x="457" y="383.9" width="1" height="1.1" fill="#222" shape-rendering="crispEdges"/>
<rect x="433" y="382.7" width="1" height="2.3" fill="#222" shape-rendering="crispEdges"/>
<rect x="470" y="383.8" width="1" height="1.2" fill="#222" shape-rendering="crispEdges"/>
<rect x="390" y="383.3" width="1" height="1.7" fill="#222" shape-rendering="crispEdges"/>
<rect x="472" y="382.9" width="1" height="2.1" fill="#222" shape-rendering="crispEdges"/>
<rect x="461" y="383.6" width="1" height="1.4" fill="#222" shape-rendering="crispEdges"/>
<rect x="442" y="384.1" width="1" height="0.9" fill="#222" shape-rendering="crispEdges"/>
<rect x="410" y="384.0" width="1" height="1.0" fill="#222" shape-rendering="crispEdges"/>
<rect x="393" y="384.4" width="1" height="0.6" fill="#111" shape-rendering="crispEdges"/>
<rect x="399" y="383.6" width="1" height="1.4" fill="#111" shape-rendering="crispEdges"/>
<rect x="405" y="383.6" width="1" height="1.4" fill="#111" shape-rendering="crispEdges"/>
<rect x="417" y="383.6" width="1" height="1.4" fill="#111" shape-rendering="crispEdges"/>
<rect x="420" y="383.6" width="1" height="1.4" fill="#111" shape-rendering="crispEdges"/>
<rect x="427" y="379.6" width="1" height="5.4" fill="#111" shape-rendering="crispEdges"/>
<rect x="428" y="383.6" width="1" height="1.4" fill="#111" shape-rendering="crispEdges"/>
<rect x="439" y="383.6" width="1" height="1.4" fill="#111" shape-rendering="crispEdges"/>
<rect x="445" y="383.0" width="1" height="2.0" fill="#111" shape-rendering="crispEdges"/>
<rect x="453" y="377.6" width="1" height="7.4" fill="#111" shape-rendering="crispEdges"/>
<rect x="454" y="383.0" width="1" height="2.0" fill="#111" shape-rendering="crispEdges"/>
<rect x="465" y="383.6" width="1" height="1.4" fill="#111" shape-rendering="crispEdges"/>
<rect x="475" y="384.4" width="1" height="0.6" fill="#111" shape-rendering="crispEdges"/>
<text transform="translate(389.2,450.0) scale(0.88,1)" font-size="9.5" fill="#222" class="t">2007</text>
<text transform="translate(383.6,468.9) scale(0.86,1)" font-size="9.3" fill="#222" class="t" text-anchor="middle">May</text>
<text transform="translate(400.1,468.9) scale(0.86,1)" font-size="9.3" fill="#222" class="t" text-anchor="middle">Jun</text>
<text transform="translate(415.9,468.9) scale(0.86,1)" font-size="9.3" fill="#222" class="t" text-anchor="middle">Jul</text>
<text transform="translate(432.3,468.9) scale(0.86,1)" font-size="9.3" fill="#222" class="t" text-anchor="middle">Aug</text>
<text transform="translate(449.1,468.9) scale(0.86,1)" font-size="9.3" fill="#222" class="t" text-anchor="middle">Sep</text>
<text transform="translate(464.9,468.9) scale(0.86,1)" font-size="9.3" fill="#222" class="t" text-anchor="middle">Oct</text>
<rect x="81.3" y="473.4" width="97.1" height="90.3" fill="#fff"/>
<path d="M81.3 473.4 H178.4 V563.7" fill="none" stroke="#9a9a9a" stroke-width="1"/>
<line x1="81.3" y1="473.4" x2="81.3" y2="563.7" stroke="#b4b4b4" stroke-width="0.9"/>
<line x1="81.3" y1="563.7" x2="178.4" y2="563.7" stroke="#888" stroke-width="0.9" stroke-dasharray="1.2 1.2"/>
<line x1="81.3" y1="492.2" x2="178.4" y2="492.2" stroke="#8a8a8a" stroke-width="0.7"/>
<line x1="81.3" y1="523.8" x2="178.4" y2="523.8" stroke="#dc6868" stroke-width="1.2" stroke-dasharray="5.6 2"/>
<line x1="83.5" y1="563.7" x2="83.5" y2="565.2" stroke="#666" stroke-width="0.7"/>
<line x1="99.9" y1="563.7" x2="99.9" y2="565.2" stroke="#666" stroke-width="0.7"/>
<line x1="116.3" y1="563.7" x2="116.3" y2="565.2" stroke="#666" stroke-width="0.7"/>
<line x1="132.7" y1="563.7" x2="132.7" y2="565.2" stroke="#666" stroke-width="0.7"/>
<line x1="149.1" y1="563.7" x2="149.1" y2="565.2" stroke="#666" stroke-width="0.7"/>
<line x1="165.5" y1="563.7" x2="165.5" y2="565.2" stroke="#666" stroke-width="0.7"/>
<polyline points="89.0,498.6 93.0,498.0 97.0,497.0 100.0,498.0 103.0,499.0 106.0,498.0 109.0,499.0 112.0,501.0 115.0,500.0 118.0,499.0 121.0,501.0 123.4,504.0 125.0,499.0 128.0,500.0 131.0,502.0 133.4,505.0 135.4,509.0 137.0,508.0 139.0,503.0 140.6,507.0 142.0,512.0 144.0,518.0 145.4,521.0 147.0,530.0 148.6,536.0 150.0,531.0 151.4,532.0 153.0,541.0 154.6,549.0 156.0,555.0 157.0,545.0 158.6,541.0 160.0,547.0 162.0,551.0 163.4,555.0 165.0,552.0 167.0,541.0 168.6,523.0 170.0,507.0 171.4,505.4" fill="none" stroke="#ff8448" stroke-width="1.3" stroke-linejoin="round"/>
<polyline points="89.4,526.0 91.0,530.0 92.6,521.0 94.6,526.0 96.6,518.0 98.6,503.0 101.0,503.0 104.0,505.0 107.0,507.0 109.0,505.0 111.0,508.0 114.0,514.0 117.0,518.0 120.0,525.0 123.0,534.0 125.0,524.0 128.0,529.0 131.0,533.0 134.0,541.0 137.0,541.0 139.0,533.0 141.0,540.0 144.0,543.0 147.0,548.0 149.0,545.0 150.6,549.0 152.0,539.0 153.4,531.0 154.6,551.0 157.0,549.0 159.4,550.0 161.0,528.0 162.6,551.0 164.6,552.0 166.6,549.0 168.6,539.0 170.0,522.6 172.0,524.0" fill="none" stroke="#0a870a" stroke-width="1.3" stroke-linejoin="round"/>
<rect x="131" y="489.9" width="1" height="2.3" fill="#222" shape-rendering="crispEdges"/>
<rect x="107" y="490.9" width="1" height="1.3" fill="#222" shape-rendering="crispEdges"/>
<rect x="111" y="491.3" width="1" height="0.9" fill="#222" shape-rendering="crispEdges"/>
<rect x="117" y="490.9" width="1" height="1.3" fill="#222" shape-rendering="crispEdges"/>
<rect x="104" y="491.0" width="1" height="1.2" fill="#222" shape-rendering="crispEdges"/>
<rect x="88" y="491.3" width="1" height="0.9" fill="#222" shape-rendering="crispEdges"/>
<rect x="114" y="489.9" width="1" height="2.3" fill="#222" shape-rendering="crispEdges"/>
<rect x="166" y="490.4" width="1" height="1.8" fill="#222" shape-rendering="crispEdges"/>
<rect x="95" y="490.9" width="1" height="1.3" fill="#222" shape-rendering="crispEdges"/>
<rect x="141" y="490.4" width="1" height="1.8" fill="#222" shape-rendering="crispEdges"/>
<rect x="100" y="490.1" width="1" height="2.1" fill="#222" shape-rendering="crispEdges"/>
<rect x="164" y="490.5" width="1" height="1.7" fill="#222" shape-rendering="crispEdges"/>
<rect x="112" y="490.4" width="1" height="1.8" fill="#222" shape-rendering="crispEdges"/>
<rect x="162" y="491.0" width="1" height="1.2" fill="#222" shape-rendering="crispEdges"/>
<rect x="152" y="489.9" width="1" height="2.3" fill="#222" shape-rendering="crispEdges"/>
<rect x="137" y="490.5" width="1" height="1.7" fill="#222" shape-rendering="crispEdges"/>
<rect x="154" y="491.1" width="1" height="1.1" fill="#222" shape-rendering="crispEdges"/>
<rect x="95" y="490.7" width="1" height="1.5" fill="#222" shape-rendering="crispEdges"/>
<rect x="137" y="489.9" width="1" height="2.3" fill="#222" shape-rendering="crispEdges"/>
<rect x="150" y="490.6" width="1" height="1.6" fill="#222" shape-rendering="crispEdges"/>
<rect x="119" y="491.0" width="1" height="1.2" fill="#222" shape-rendering="crispEdges"/>
<rect x="85" y="490.2" width="1" height="2.0" fill="#222" shape-rendering="crispEdges"/>
<rect x="90" y="490.4" width="1" height="1.8" fill="#111" shape-rendering="crispEdges"/>
<rect x="93" y="489.8" width="1" height="2.4" fill="#111" shape-rendering="crispEdges"/>
<rect x="96" y="490.4" width="1" height="1.8" fill="#111" shape-rendering="crispEdges"/>
<rect x="100" y="489.8" width="1" height="2.4" fill="#111" shape-rendering="crispEdges"/>
<rect x="105" y="490.4" width="1" height="1.8" fill="#111" shape-rendering="crispEdges"/>
<rect x="109" y="490.4" width="1" height="1.8" fill="#111" shape-rendering="crispEdges"/>
<rect x="116" y="490.4" width="1" height="1.8" fill="#111" shape-rendering="crispEdges"/>
<rect x="123" y="490.4" width="1" height="1.8" fill="#111" shape-rendering="crispEdges"/>
<rect x="129" y="490.4" width="1" height="1.8" fill="#111" shape-rendering="crispEdges"/>
<rect x="137" y="490.4" width="1" height="1.8" fill="#111" shape-rendering="crispEdges"/>
<rect x="147" y="490.8" width="1" height="1.4" fill="#111" shape-rendering="crispEdges"/>
<rect x="153" y="490.8" width="1" height="1.4" fill="#111" shape-rendering="crispEdges"/>
<rect x="166" y="488.4" width="1" height="3.8" fill="#111" shape-rendering="crispEdges"/>
<text transform="translate(84.9,557.4) scale(0.88,1)" font-size="9.5" fill="#222" class="t">2011</text>
<text transform="translate(79.3,576.3) scale(0.86,1)" font-size="9.3" fill="#222" class="t" text-anchor="middle">May</text>
<text transform="translate(95.8,576.3) scale(0.86,1)" font-size="9.3" fill="#222" class="t" text-anchor="middle">Jun</text>
<text transform="translate(111.6,576.3) scale(0.86,1)" font-size="9.3" fill="#222" class="t" text-anchor="middle">Jul</text>
<text transform="translate(128.0,576.3) scale(0.86,1)" font-size="9.3" fill="#222" class="t" text-anchor="middle">Aug</text>
<text transform="translate(144.8,576.3) scale(0.86,1)" font-size="9.3" fill="#222" class="t" text-anchor="middle">Sep</text>
<text transform="translate(160.6,576.3) scale(0.86,1)" font-size="9.3" fill="#222" class="t" text-anchor="middle">Oct</text>
<text x="76.9" y="482.2" font-size="7" fill="#222" class="t" text-anchor="end">80</text>
<line x1="79.5" y1="479.7" x2="80.7" y2="479.7" stroke="#666" stroke-width="0.7"/>
<text x="76.9" y="494.7" font-size="7" fill="#222" class="t" text-anchor="end">0</text>
<line x1="79.5" y1="492.2" x2="80.7" y2="492.2" stroke="#666" stroke-width="0.7"/>
<text x="76.9" y="510.5" font-size="7" fill="#222" class="t" text-anchor="end">200</text>
<line x1="62.9" y1="508.0" x2="64.4" y2="508.0" stroke="#222" stroke-width="0.8"/>
<line x1="79.5" y1="508.0" x2="80.7" y2="508.0" stroke="#666" stroke-width="0.7"/>
<text x="76.9" y="526.3" font-size="7" fill="#222" class="t" text-anchor="end">400</text>
<line x1="62.9" y1="523.8" x2="64.4" y2="523.8" stroke="#222" stroke-width="0.8"/>
<line x1="79.5" y1="523.8" x2="80.7" y2="523.8" stroke="#666" stroke-width="0.7"/>
<text x="76.9" y="542.0" font-size="7" fill="#222" class="t" text-anchor="end">600</text>
<line x1="62.9" y1="539.5" x2="64.4" y2="539.5" stroke="#222" stroke-width="0.8"/>
<line x1="79.5" y1="539.5" x2="80.7" y2="539.5" stroke="#666" stroke-width="0.7"/>
<text x="76.9" y="557.8" font-size="7" fill="#222" class="t" text-anchor="end">800</text>
<line x1="62.9" y1="555.3" x2="64.4" y2="555.3" stroke="#222" stroke-width="0.8"/>
<line x1="79.5" y1="555.3" x2="80.7" y2="555.3" stroke="#666" stroke-width="0.7"/>
<text transform="translate(48.3,484.9) rotate(-90)" font-size="8.4" fill="#222" class="t" text-anchor="middle">P</text>
<text transform="translate(58.3,484.0) rotate(-90)" font-size="8.4" fill="#222" class="t" text-anchor="middle">in mm</text>
<text transform="translate(48.8,533.2) rotate(-90)" font-size="8.4" fill="#222" class="t" text-anchor="middle">Pressure head</text>
<text transform="translate(57.9,531.7) rotate(-90)" font-size="8.4" fill="#222" class="t" text-anchor="middle">in cm</text>
<rect x="181.4" y="473.4" width="97.2" height="90.3" fill="#fff"/>
<path d="M181.4 563.7 V473.4 H278.6 V563.7" fill="none" stroke="#9a9a9a" stroke-width="1"/>
<line x1="181.4" y1="563.7" x2="278.6" y2="563.7" stroke="#888" stroke-width="0.9" stroke-dasharray="1.2 1.2"/>
<line x1="181.4" y1="492.2" x2="278.6" y2="492.2" stroke="#8a8a8a" stroke-width="0.7"/>
<line x1="181.4" y1="523.8" x2="278.6" y2="523.8" stroke="#f2c4c4" stroke-width="1.2" stroke-dasharray="5.6 2"/>
<line x1="183.6" y1="563.7" x2="183.6" y2="565.2" stroke="#666" stroke-width="0.7"/>
<line x1="200.0" y1="563.7" x2="200.0" y2="565.2" stroke="#666" stroke-width="0.7"/>
<line x1="216.4" y1="563.7" x2="216.4" y2="565.2" stroke="#666" stroke-width="0.7"/>
<line x1="232.8" y1="563.7" x2="232.8" y2="565.2" stroke="#666" stroke-width="0.7"/>
<line x1="249.2" y1="563.7" x2="249.2" y2="565.2" stroke="#666" stroke-width="0.7"/>
<line x1="265.6" y1="563.7" x2="265.6" y2="565.2" stroke="#666" stroke-width="0.7"/>
<polyline points="189.0,498.0 192.0,499.0 195.0,499.0 198.0,498.0 200.0,496.6 203.0,498.0 206.0,499.0 208.6,501.0 210.6,497.4 213.0,499.0 216.0,501.0 219.0,503.0 221.0,506.0 222.6,512.0 224.0,523.0 225.4,537.0 227.0,549.0 228.6,555.0 230.6,558.0 232.0,560.0 234.0,555.0 235.4,527.0 236.6,519.0 238.0,531.0 239.4,545.0 241.0,538.0 242.6,547.0 244.6,533.0 246.0,535.0 248.0,547.0 250.0,553.0 253.0,555.0 255.4,551.0 258.0,555.0 260.0,552.0 262.6,559.0 265.0,557.0 267.4,553.0 269.4,543.0 270.6,536.0 273.0,541.0 275.0,543.0 276.6,540.0 278.6,548.0" fill="none" stroke="#ff8448" stroke-width="1.3" stroke-linejoin="round"/>
<polyline points="189.0,499.0 192.0,502.0 196.0,504.0 199.0,499.0 202.0,500.0 205.0,500.0 208.0,503.0 210.0,505.0 211.4,500.0 214.0,502.6 217.0,505.0 220.0,507.0 222.0,509.0 224.0,516.0 227.0,525.0 229.4,533.0 231.0,543.0 233.0,544.0 234.6,533.0 236.2,515.0 238.6,522.0 240.6,516.0 243.0,516.0 245.0,509.0 247.0,508.0 250.0,516.0 253.0,521.0 255.0,525.0 257.0,523.0 260.0,523.0 263.0,531.0 266.6,536.0 269.0,531.0 272.0,521.0 274.0,520.6 276.0,524.0 278.6,533.0" fill="none" stroke="#0a870a" stroke-width="1.3" stroke-linejoin="round"/>
<rect x="223" y="491.3" width="1" height="0.9" fill="#222" shape-rendering="crispEdges"/>
<rect x="221" y="490.0" width="1" height="2.2" fill="#222" shape-rendering="crispEdges"/>
<rect x="252" y="490.8" width="1" height="1.4" fill="#222" shape-rendering="crispEdges"/>
<rect x="231" y="490.7" width="1" height="1.5" fill="#222" shape-rendering="crispEdges"/>
<rect x="234" y="490.5" width="1" height="1.7" fill="#222" shape-rendering="crispEdges"/>
<rect x="253" y="490.0" width="1" height="2.2" fill="#222" shape-rendering="crispEdges"/>
<rect x="190" y="490.8" width="1" height="1.4" fill="#222" shape-rendering="crispEdges"/>
<rect x="192" y="490.1" width="1" height="2.1" fill="#222" shape-rendering="crispEdges"/>
<rect x="247" y="490.5" width="1" height="1.7" fill="#222" shape-rendering="crispEdges"/>
<rect x="269" y="490.3" width="1" height="1.9" fill="#222" shape-rendering="crispEdges"/>
<rect x="252" y="490.6" width="1" height="1.6" fill="#222" shape-rendering="crispEdges"/>
<rect x="210" y="491.1" width="1" height="1.1" fill="#222" shape-rendering="crispEdges"/>
<rect x="259" y="490.5" width="1" height="1.7" fill="#222" shape-rendering="crispEdges"/>
<rect x="250" y="491.1" width="1" height="1.1" fill="#222" shape-rendering="crispEdges"/>
<rect x="196" y="490.9" width="1" height="1.3" fill="#222" shape-rendering="crispEdges"/>
<rect x="220" y="490.1" width="1" height="2.1" fill="#222" shape-rendering="crispEdges"/>
<rect x="241" y="490.4" width="1" height="1.8" fill="#222" shape-rendering="crispEdges"/>
<rect x="253" y="491.0" width="1" height="1.2" fill="#222" shape-rendering="crispEdges"/>
<rect x="267" y="490.0" width="1" height="2.2" fill="#222" shape-rendering="crispEdges"/>
<rect x="186" y="491.0" width="1" height="1.2" fill="#222" shape-rendering="crispEdges"/>
<rect x="231" y="491.1" width="1" height="1.1" fill="#222" shape-rendering="crispEdges"/>
<rect x="241" y="490.0" width="1" height="2.2" fill="#222" shape-rendering="crispEdges"/>
<rect x="192" y="491.2" width="1" height="1.0" fill="#111" shape-rendering="crispEdges"/>
<rect x="198" y="484.4" width="1" height="7.8" fill="#111" shape-rendering="crispEdges"/>
<rect x="199" y="489.2" width="1" height="3.0" fill="#111" shape-rendering="crispEdges"/>
<rect x="202" y="490.4" width="1" height="1.8" fill="#111" shape-rendering="crispEdges"/>
<rect x="210" y="488.4" width="1" height="3.8" fill="#111" shape-rendering="crispEdges"/>
<rect x="213" y="490.4" width="1" height="1.8" fill="#111" shape-rendering="crispEdges"/>
<rect x="230" y="490.4" width="1" height="1.8" fill="#111" shape-rendering="crispEdges"/>
<rect x="235" y="484.8" width="1" height="7.4" fill="#111" shape-rendering="crispEdges"/>
<rect x="236" y="489.8" width="1" height="2.4" fill="#111" shape-rendering="crispEdges"/>
<rect x="241" y="489.2" width="1" height="3.0" fill="#111" shape-rendering="crispEdges"/>
<rect x="244" y="490.8" width="1" height="1.4" fill="#111" shape-rendering="crispEdges"/>
<rect x="255" y="490.8" width="1" height="1.4" fill="#111" shape-rendering="crispEdges"/>
<rect x="267" y="489.8" width="1" height="2.4" fill="#111" shape-rendering="crispEdges"/>
<rect x="269" y="490.4" width="1" height="1.8" fill="#111" shape-rendering="crispEdges"/>
<text transform="translate(185.0,557.4) scale(0.88,1)" font-size="9.5" fill="#222" class="t">2013</text>
<text transform="translate(179.4,576.3) scale(0.86,1)" font-size="9.3" fill="#222" class="t" text-anchor="middle">May</text>
<text transform="translate(195.9,576.3) scale(0.86,1)" font-size="9.3" fill="#222" class="t" text-anchor="middle">Jun</text>
<text transform="translate(211.7,576.3) scale(0.86,1)" font-size="9.3" fill="#222" class="t" text-anchor="middle">Jul</text>
<text transform="translate(228.1,576.3) scale(0.86,1)" font-size="9.3" fill="#222" class="t" text-anchor="middle">Aug</text>
<text transform="translate(244.9,576.3) scale(0.86,1)" font-size="9.3" fill="#222" class="t" text-anchor="middle">Sep</text>
<text transform="translate(260.7,576.3) scale(0.86,1)" font-size="9.3" fill="#222" class="t" text-anchor="middle">Oct</text>
<rect x="284" y="473.4" width="97.4" height="90.3" fill="#fff"/>
<path d="M284 563.7 V473.4 H381.4 V563.7" fill="none" stroke="#9a9a9a" stroke-width="1"/>
<line x1="284" y1="563.7" x2="381.4" y2="563.7" stroke="#888" stroke-width="0.9" stroke-dasharray="1.2 1.2"/>
<line x1="284" y1="492.2" x2="381.4" y2="492.2" stroke="#8a8a8a" stroke-width="0.7"/>
<line x1="284" y1="523.8" x2="381.4" y2="523.8" stroke="#e8a0a0" stroke-width="1.2" stroke-dasharray="5.6 2"/>
<line x1="286.2" y1="563.7" x2="286.2" y2="565.2" stroke="#666" stroke-width="0.7"/>
<line x1="302.6" y1="563.7" x2="302.6" y2="565.2" stroke="#666" stroke-width="0.7"/>
<line x1="319.0" y1="563.7" x2="319.0" y2="565.2" stroke="#666" stroke-width="0.7"/>
<line x1="335.4" y1="563.7" x2="335.4" y2="565.2" stroke="#666" stroke-width="0.7"/>
<line x1="351.8" y1="563.7" x2="351.8" y2="565.2" stroke="#666" stroke-width="0.7"/>
<line x1="368.2" y1="563.7" x2="368.2" y2="565.2" stroke="#666" stroke-width="0.7"/>
<polyline points="291.0,507.0 293.0,505.0 295.0,510.0 297.0,496.6 300.0,497.0 303.0,501.0 306.0,498.0 309.0,499.0 312.0,502.0 314.0,500.0 315.6,496.6 319.0,498.0 323.0,498.6 326.0,499.0 328.0,502.0 330.0,508.0 331.6,516.0 333.0,523.0 334.4,535.0 336.0,546.0 337.6,555.0 339.0,544.0 341.0,547.0 343.0,552.0 345.0,557.0 346.4,561.0 348.0,551.0 350.0,531.0 351.0,513.0 353.0,516.0 355.0,520.0 357.0,527.0 358.4,521.0 360.0,524.0 362.0,529.0 364.0,527.0 366.0,531.0 368.0,534.0 370.0,537.0 372.0,538.0 374.0,536.0 376.4,541.0 378.0,537.0 379.6,526.0 381.0,518.0" fill="none" stroke="#ff8448" stroke-width="1.3" stroke-linejoin="round"/>
<polyline points="291.0,541.0 293.0,542.0 294.4,550.0 295.6,541.0 297.0,523.0 298.4,506.0 301.0,504.0 303.0,503.0 305.0,510.0 306.0,519.0 308.0,500.0 310.0,502.0 312.0,510.0 314.0,512.0 315.6,499.0 318.0,501.0 321.0,503.0 324.0,504.0 326.0,506.0 328.0,511.0 330.0,523.0 331.6,534.0 333.0,529.0 334.0,545.0 336.0,546.0 338.4,544.0 340.4,549.0 342.4,553.0 345.0,550.0 346.4,555.0 348.0,549.0 349.6,523.0 351.0,501.0 353.0,506.0 355.6,513.0 358.0,504.0 360.0,510.0 362.0,513.0 364.0,516.0 366.0,521.0 368.0,525.0 370.0,529.0 372.0,537.0 374.4,548.0 376.4,544.0 378.4,540.0 380.4,535.0" fill="none" stroke="#0a870a" stroke-width="1.3" stroke-linejoin="round"/>
<rect x="335" y="491.4" width="1" height="0.8" fill="#222" shape-rendering="crispEdges"/>
<rect x="344" y="490.6" width="1" height="1.6" fill="#222" shape-rendering="crispEdges"/>
<rect x="298" y="490.5" width="1" height="1.7" fill="#222" shape-rendering="crispEdges"/>
<rect x="309" y="491.3" width="1" height="0.9" fill="#222" shape-rendering="crispEdges"/>
<rect x="365" y="490.7" width="1" height="1.5" fill="#222" shape-rendering="crispEdges"/>
<rect x="335" y="490.7" width="1" height="1.5" fill="#222" shape-rendering="crispEdges"/>
<rect x="345" y="490.2" width="1" height="2.0" fill="#222" shape-rendering="crispEdges"/>
<rect x="295" y="491.1" width="1" height="1.1" fill="#222" shape-rendering="crispEdges"/>
<rect x="306" y="490.7" width="1" height="1.5" fill="#222" shape-rendering="crispEdges"/>
<rect x="340" y="490.9" width="1" height="1.3" fill="#222" shape-rendering="crispEdges"/>
<rect x="373" y="490.6" width="1" height="1.6" fill="#222" shape-rendering="crispEdges"/>
<rect x="328" y="490.9" width="1" height="1.3" fill="#222" shape-rendering="crispEdges"/>
<rect x="340" y="491.1" width="1" height="1.1" fill="#222" shape-rendering="crispEdges"/>
<rect x="308" y="490.9" width="1" height="1.3" fill="#222" shape-rendering="crispEdges"/>
<rect x="342" y="490.0" width="1" height="2.2" fill="#222" shape-rendering="crispEdges"/>
<rect x="328" y="491.0" width="1" height="1.2" fill="#222" shape-rendering="crispEdges"/>
<rect x="311" y="491.1" width="1" height="1.1" fill="#222" shape-rendering="crispEdges"/>
<rect x="298" y="491.2" width="1" height="1.0" fill="#222" shape-rendering="crispEdges"/>
<rect x="349" y="490.6" width="1" height="1.6" fill="#222" shape-rendering="crispEdges"/>
<rect x="309" y="490.8" width="1" height="1.4" fill="#222" shape-rendering="crispEdges"/>
<rect x="289" y="490.1" width="1" height="2.1" fill="#222" shape-rendering="crispEdges"/>
<rect x="358" y="490.4" width="1" height="1.8" fill="#222" shape-rendering="crispEdges"/>
<rect x="292" y="490.8" width="1" height="1.4" fill="#111" shape-rendering="crispEdges"/>
<rect x="296" y="487.6" width="1" height="4.6" fill="#111" shape-rendering="crispEdges"/>
<rect x="300" y="488.8" width="1" height="3.4" fill="#111" shape-rendering="crispEdges"/>
<rect x="306" y="489.2" width="1" height="3.0" fill="#111" shape-rendering="crispEdges"/>
<rect x="311" y="490.2" width="1" height="2.0" fill="#111" shape-rendering="crispEdges"/>
<rect x="314" y="486.2" width="1" height="6.0" fill="#111" shape-rendering="crispEdges"/>
<rect x="319" y="488.8" width="1" height="3.4" fill="#111" shape-rendering="crispEdges"/>
<rect x="324" y="490.2" width="1" height="2.0" fill="#111" shape-rendering="crispEdges"/>
<rect x="337" y="490.8" width="1" height="1.4" fill="#111" shape-rendering="crispEdges"/>
<rect x="348" y="487.2" width="1" height="5.0" fill="#111" shape-rendering="crispEdges"/>
<rect x="350" y="490.2" width="1" height="2.0" fill="#111" shape-rendering="crispEdges"/>
<rect x="354" y="489.6" width="1" height="2.6" fill="#111" shape-rendering="crispEdges"/>
<rect x="360" y="490.8" width="1" height="1.4" fill="#111" shape-rendering="crispEdges"/>
<rect x="365" y="491.2" width="1" height="1.0" fill="#111" shape-rendering="crispEdges"/>
<rect x="378" y="489.2" width="1" height="3.0" fill="#111" shape-rendering="crispEdges"/>
<text transform="translate(287.6,557.4) scale(0.88,1)" font-size="9.5" fill="#222" class="t">2018</text>
<text transform="translate(282.0,576.3) scale(0.86,1)" font-size="9.3" fill="#222" class="t" text-anchor="middle">May</text>
<text transform="translate(298.5,576.3) scale(0.86,1)" font-size="9.3" fill="#222" class="t" text-anchor="middle">Jun</text>
<text transform="translate(314.3,576.3) scale(0.86,1)" font-size="9.3" fill="#222" class="t" text-anchor="middle">Jul</text>
<text transform="translate(330.7,576.3) scale(0.86,1)" font-size="9.3" fill="#222" class="t" text-anchor="middle">Aug</text>
<text transform="translate(347.5,576.3) scale(0.86,1)" font-size="9.3" fill="#222" class="t" text-anchor="middle">Sep</text>
<text transform="translate(363.3,576.3) scale(0.86,1)" font-size="9.3" fill="#222" class="t" text-anchor="middle">Oct</text>
<rect x="385.6" y="473.4" width="96.9" height="90.3" fill="#fff"/>
<path d="M385.6 563.7 V473.4 H482.5 V563.7" fill="none" stroke="#9a9a9a" stroke-width="1"/>
<line x1="385.6" y1="563.7" x2="482.5" y2="563.7" stroke="#888" stroke-width="0.9" stroke-dasharray="1.2 1.2"/>
<line x1="385.6" y1="492.2" x2="482.5" y2="492.2" stroke="#8a8a8a" stroke-width="0.7"/>
<line x1="385.6" y1="523.8" x2="482.5" y2="523.8" stroke="#e8a0a0" stroke-width="1.2" stroke-dasharray="5.6 2"/>
<line x1="387.8" y1="563.7" x2="387.8" y2="565.2" stroke="#666" stroke-width="0.7"/>
<line x1="404.2" y1="563.7" x2="404.2" y2="565.2" stroke="#666" stroke-width="0.7"/>
<line x1="420.6" y1="563.7" x2="420.6" y2="565.2" stroke="#666" stroke-width="0.7"/>
<line x1="437.0" y1="563.7" x2="437.0" y2="565.2" stroke="#666" stroke-width="0.7"/>
<line x1="453.4" y1="563.7" x2="453.4" y2="565.2" stroke="#666" stroke-width="0.7"/>
<line x1="469.8" y1="563.7" x2="469.8" y2="565.2" stroke="#666" stroke-width="0.7"/>
<polyline points="393.0,497.4 396.0,498.0 399.0,497.4 402.0,498.6 405.0,497.4 408.0,498.6 411.0,497.4 413.0,496.6 415.0,498.0 417.0,501.0 419.0,504.0 421.0,508.0 423.0,513.0 424.6,506.0 426.0,508.0 428.0,518.0 430.0,531.0 432.0,548.0 433.0,535.0 434.0,521.0 436.0,525.0 438.0,537.0 439.4,557.0 441.4,553.0 443.4,559.0 445.0,549.0 446.6,543.0 448.0,553.0 450.0,548.0 452.0,551.0 454.0,553.0 456.6,557.0 458.6,549.0 460.0,553.0 462.0,561.0 464.0,549.0 466.0,557.0 468.0,559.0 470.0,549.0 472.0,542.0 475.0,543.0 477.0,539.0 479.4,544.0 481.0,548.0" fill="none" stroke="#ff8448" stroke-width="1.3" stroke-linejoin="round"/>
<polyline points="393.4,523.0 396.0,528.0 399.0,533.0 401.0,529.0 403.4,526.0 405.0,530.0 407.4,521.0 409.0,526.0 412.0,528.0 414.6,515.0 416.6,525.0 418.6,532.0 421.0,539.0 423.0,544.0 425.0,538.0 427.0,541.0 429.0,547.0 431.4,549.0 433.0,551.0 434.0,535.0 436.6,544.0 439.0,545.0 440.6,551.0 443.0,545.0 445.0,541.0 446.6,549.0 448.6,527.0 450.6,533.0 453.0,537.0 457.0,539.0 460.0,541.0 463.0,545.0 465.0,549.0 467.0,548.0 469.0,544.0 471.4,533.0 474.0,537.0 476.6,545.0 479.0,550.0 481.0,553.0" fill="none" stroke="#0a870a" stroke-width="1.3" stroke-linejoin="round"/>
<rect x="463" y="490.1" width="1" height="2.1" fill="#222" shape-rendering="crispEdges"/>
<rect x="473" y="491.1" width="1" height="1.1" fill="#222" shape-rendering="crispEdges"/>
<rect x="447" y="490.1" width="1" height="2.1" fill="#222" shape-rendering="crispEdges"/>
<rect x="477" y="489.9" width="1" height="2.3" fill="#222" shape-rendering="crispEdges"/>
<rect x="460" y="489.9" width="1" height="2.3" fill="#222" shape-rendering="crispEdges"/>
<rect x="456" y="490.4" width="1" height="1.8" fill="#222" shape-rendering="crispEdges"/>
<rect x="415" y="490.4" width="1" height="1.8" fill="#222" shape-rendering="crispEdges"/>
<rect x="466" y="490.7" width="1" height="1.5" fill="#222" shape-rendering="crispEdges"/>
<rect x="395" y="490.3" width="1" height="1.9" fill="#222" shape-rendering="crispEdges"/>
<rect x="447" y="490.8" width="1" height="1.4" fill="#222" shape-rendering="crispEdges"/>
<rect x="419" y="490.0" width="1" height="2.2" fill="#222" shape-rendering="crispEdges"/>
<rect x="451" y="490.5" width="1" height="1.7" fill="#222" shape-rendering="crispEdges"/>
<rect x="399" y="491.1" width="1" height="1.1" fill="#222" shape-rendering="crispEdges"/>
<rect x="428" y="491.3" width="1" height="0.9" fill="#222" shape-rendering="crispEdges"/>
<rect x="406" y="491.2" width="1" height="1.0" fill="#222" shape-rendering="crispEdges"/>
<rect x="463" y="491.3" width="1" height="0.9" fill="#222" shape-rendering="crispEdges"/>
<rect x="470" y="490.9" width="1" height="1.3" fill="#222" shape-rendering="crispEdges"/>
<rect x="448" y="490.4" width="1" height="1.8" fill="#222" shape-rendering="crispEdges"/>
<rect x="415" y="490.8" width="1" height="1.4" fill="#222" shape-rendering="crispEdges"/>
<rect x="462" y="490.9" width="1" height="1.3" fill="#222" shape-rendering="crispEdges"/>
<rect x="457" y="490.2" width="1" height="2.0" fill="#222" shape-rendering="crispEdges"/>
<rect x="457" y="491.2" width="1" height="1.0" fill="#222" shape-rendering="crispEdges"/>
<rect x="395" y="490.8" width="1" height="1.4" fill="#111" shape-rendering="crispEdges"/>
<rect x="401" y="490.2" width="1" height="2.0" fill="#111" shape-rendering="crispEdges"/>
<rect x="408" y="490.2" width="1" height="2.0" fill="#111" shape-rendering="crispEdges"/>
<rect x="412" y="489.6" width="1" height="2.6" fill="#111" shape-rendering="crispEdges"/>
<rect x="420" y="490.8" width="1" height="1.4" fill="#111" shape-rendering="crispEdges"/>
<rect x="424" y="490.2" width="1" height="2.0" fill="#111" shape-rendering="crispEdges"/>
<rect x="433" y="486.2" width="1" height="6.0" fill="#111" shape-rendering="crispEdges"/>
<rect x="437" y="490.8" width="1" height="1.4" fill="#111" shape-rendering="crispEdges"/>
<rect x="444" y="489.6" width="1" height="2.6" fill="#111" shape-rendering="crispEdges"/>
<rect x="447" y="486.2" width="1" height="6.0" fill="#111" shape-rendering="crispEdges"/>
<rect x="451" y="490.8" width="1" height="1.4" fill="#111" shape-rendering="crispEdges"/>
<rect x="465" y="490.8" width="1" height="1.4" fill="#111" shape-rendering="crispEdges"/>
<rect x="478" y="491.6" width="1" height="0.6" fill="#111" shape-rendering="crispEdges"/>
<text transform="translate(389.2,557.4) scale(0.88,1)" font-size="9.5" fill="#222" class="t">2019</text>
<text transform="translate(383.6,576.3) scale(0.86,1)" font-size="9.3" fill="#222" class="t" text-anchor="middle">May</text>
<text transform="translate(400.1,576.3) scale(0.86,1)" font-size="9.3" fill="#222" class="t" text-anchor="middle">Jun</text>
<text transform="translate(415.9,576.3) scale(0.86,1)" font-size="9.3" fill="#222" class="t" text-anchor="middle">Jul</text>
<text transform="translate(432.3,576.3) scale(0.86,1)" font-size="9.3" fill="#222" class="t" text-anchor="middle">Aug</text>
<text transform="translate(449.1,576.3) scale(0.86,1)" font-size="9.3" fill="#222" class="t" text-anchor="middle">Sep</text>
<text transform="translate(464.9,576.3) scale(0.86,1)" font-size="9.3" fill="#222" class="t" text-anchor="middle">Oct</text>
<rect x="79.5" y="594.4" width="97.1" height="89.6" fill="#fff"/>
<path d="M79.5 594.4 H176.6 V684" fill="none" stroke="#9a9a9a" stroke-width="1"/>
<line x1="79.5" y1="594.4" x2="79.5" y2="684" stroke="#b4b4b4" stroke-width="0.9"/>
<line x1="79.5" y1="684" x2="176.6" y2="684" stroke="#888" stroke-width="0.9" stroke-dasharray="1.2 1.2"/>
<line x1="79.5" y1="613.2" x2="176.6" y2="613.2" stroke="#8a8a8a" stroke-width="0.7"/>
<line x1="79.5" y1="644.8" x2="176.6" y2="644.8" stroke="#e28888" stroke-width="1.2" stroke-dasharray="5.6 2"/>
<line x1="81.7" y1="684" x2="81.7" y2="685.5" stroke="#666" stroke-width="0.7"/>
<line x1="98.1" y1="684" x2="98.1" y2="685.5" stroke="#666" stroke-width="0.7"/>
<line x1="114.5" y1="684" x2="114.5" y2="685.5" stroke="#666" stroke-width="0.7"/>
<line x1="130.9" y1="684" x2="130.9" y2="685.5" stroke="#666" stroke-width="0.7"/>
<line x1="147.3" y1="684" x2="147.3" y2="685.5" stroke="#666" stroke-width="0.7"/>
<line x1="163.7" y1="684" x2="163.7" y2="685.5" stroke="#666" stroke-width="0.7"/>
<polyline points="95.0,622.0 97.0,621.0 99.0,624.0 101.0,630.0 102.6,636.0 104.0,633.0 105.4,639.0 107.0,645.0 108.6,654.0 110.0,660.0 111.4,670.0 113.4,672.0 116.0,671.0 118.0,666.0 119.4,659.0 121.0,664.0 123.0,674.0 124.6,677.0 127.0,666.0 128.6,665.0 130.6,672.0 133.0,676.0 136.0,680.0 139.0,681.0 142.0,679.0 145.0,682.0 148.0,676.0 150.0,682.0 152.6,680.0 155.0,675.0 157.4,677.0 159.0,681.0 161.0,680.0 163.0,671.0 164.6,652.0 165.6,635.0" fill="none" stroke="#ff8448" stroke-width="1.3" stroke-linejoin="round"/>
<polyline points="94.6,635.0 97.4,637.0 99.0,641.0 101.0,647.0 103.0,651.0 105.0,653.0 107.0,654.0 109.0,660.0 110.6,655.0 112.0,663.0 114.0,666.0 115.4,670.0 117.4,668.0 119.0,666.0 121.0,671.0 123.0,669.0 125.4,670.0 127.0,669.0 129.0,672.0 130.6,670.0 132.6,669.0 134.6,673.0 137.0,672.0 139.0,671.0 141.0,678.0 143.0,678.0 146.0,680.0 149.0,681.0 152.0,680.0 155.0,679.0 158.0,680.0 160.0,682.0 162.0,680.0 164.0,664.0 166.0,644.0" fill="none" stroke="#0a870a" stroke-width="1.3" stroke-linejoin="round"/>
<rect x="93" y="610.9" width="1" height="2.3" fill="#222" shape-rendering="crispEdges"/>
<rect x="145" y="611.9" width="1" height="1.3" fill="#222" shape-rendering="crispEdges"/>
<rect x="143" y="611.1" width="1" height="2.1" fill="#222" shape-rendering="crispEdges"/>
<rect x="155" y="611.0" width="1" height="2.2" fill="#222" shape-rendering="crispEdges"/>
<rect x="146" y="612.2" width="1" height="1.0" fill="#222" shape-rendering="crispEdges"/>
<rect x="98" y="611.9" width="1" height="1.3" fill="#222" shape-rendering="crispEdges"/>
<rect x="152" y="611.8" width="1" height="1.4" fill="#222" shape-rendering="crispEdges"/>
<rect x="97" y="611.8" width="1" height="1.4" fill="#222" shape-rendering="crispEdges"/>
<rect x="135" y="611.8" width="1" height="1.4" fill="#222" shape-rendering="crispEdges"/>
<rect x="86" y="611.4" width="1" height="1.8" fill="#222" shape-rendering="crispEdges"/>
<rect x="134" y="612.0" width="1" height="1.2" fill="#222" shape-rendering="crispEdges"/>
<rect x="121" y="612.3" width="1" height="0.9" fill="#222" shape-rendering="crispEdges"/>
<rect x="157" y="611.7" width="1" height="1.5" fill="#222" shape-rendering="crispEdges"/>
<rect x="132" y="611.4" width="1" height="1.8" fill="#222" shape-rendering="crispEdges"/>
<rect x="90" y="611.9" width="1" height="1.3" fill="#222" shape-rendering="crispEdges"/>
<rect x="126" y="612.2" width="1" height="1.0" fill="#222" shape-rendering="crispEdges"/>
<rect x="97" y="612.2" width="1" height="1.0" fill="#222" shape-rendering="crispEdges"/>
<rect x="110" y="611.6" width="1" height="1.6" fill="#222" shape-rendering="crispEdges"/>
<rect x="84" y="611.5" width="1" height="1.7" fill="#222" shape-rendering="crispEdges"/>
<rect x="140" y="611.4" width="1" height="1.8" fill="#222" shape-rendering="crispEdges"/>
<rect x="123" y="611.2" width="1" height="2.0" fill="#222" shape-rendering="crispEdges"/>
<rect x="86" y="611.2" width="1" height="2.0" fill="#222" shape-rendering="crispEdges"/>
<rect x="95" y="610.8" width="1" height="2.4" fill="#111" shape-rendering="crispEdges"/>
<rect x="97" y="612.2" width="1" height="1.0" fill="#111" shape-rendering="crispEdges"/>
<rect x="102" y="611.8" width="1" height="1.4" fill="#111" shape-rendering="crispEdges"/>
<rect x="105" y="611.8" width="1" height="1.4" fill="#111" shape-rendering="crispEdges"/>
<rect x="112" y="612.2" width="1" height="1.0" fill="#111" shape-rendering="crispEdges"/>
<rect x="125" y="609.8" width="1" height="3.4" fill="#111" shape-rendering="crispEdges"/>
<rect x="126" y="611.4" width="1" height="1.8" fill="#111" shape-rendering="crispEdges"/>
<rect x="137" y="610.8" width="1" height="2.4" fill="#111" shape-rendering="crispEdges"/>
<rect x="143" y="612.2" width="1" height="1.0" fill="#111" shape-rendering="crispEdges"/>
<rect x="149" y="612.2" width="1" height="1.0" fill="#111" shape-rendering="crispEdges"/>
<rect x="163" y="607.4" width="1" height="5.8" fill="#111" shape-rendering="crispEdges"/>
<rect x="163" y="609.8" width="1" height="3.4" fill="#111" shape-rendering="crispEdges"/>
<text transform="translate(83.1,677.7) scale(0.88,1)" font-size="9.5" fill="#222" class="t">2003</text>
<text transform="translate(77.5,696.6) scale(0.86,1)" font-size="9.3" fill="#222" class="t" text-anchor="middle">May</text>
<text transform="translate(94.0,696.6) scale(0.86,1)" font-size="9.3" fill="#222" class="t" text-anchor="middle">Jun</text>
<text transform="translate(109.8,696.6) scale(0.86,1)" font-size="9.3" fill="#222" class="t" text-anchor="middle">Jul</text>
<text transform="translate(126.2,696.6) scale(0.86,1)" font-size="9.3" fill="#222" class="t" text-anchor="middle">Aug</text>
<text transform="translate(143.0,696.6) scale(0.86,1)" font-size="9.3" fill="#222" class="t" text-anchor="middle">Sep</text>
<text transform="translate(158.8,696.6) scale(0.86,1)" font-size="9.3" fill="#222" class="t" text-anchor="middle">Oct</text>
<text x="75.1" y="603.2" font-size="7" fill="#222" class="t" text-anchor="end">80</text>
<line x1="77.7" y1="600.7" x2="78.9" y2="600.7" stroke="#666" stroke-width="0.7"/>
<text x="75.1" y="615.7" font-size="7" fill="#222" class="t" text-anchor="end">0</text>
<line x1="77.7" y1="613.2" x2="78.9" y2="613.2" stroke="#666" stroke-width="0.7"/>
<text x="75.1" y="631.5" font-size="7" fill="#222" class="t" text-anchor="end">200</text>
<line x1="61.1" y1="629.0" x2="62.6" y2="629.0" stroke="#222" stroke-width="0.8"/>
<line x1="77.7" y1="629.0" x2="78.9" y2="629.0" stroke="#666" stroke-width="0.7"/>
<text x="75.1" y="647.3" font-size="7" fill="#222" class="t" text-anchor="end">400</text>
<line x1="61.1" y1="644.8" x2="62.6" y2="644.8" stroke="#222" stroke-width="0.8"/>
<line x1="77.7" y1="644.8" x2="78.9" y2="644.8" stroke="#666" stroke-width="0.7"/>
<text x="75.1" y="663.0" font-size="7" fill="#222" class="t" text-anchor="end">600</text>
<line x1="61.1" y1="660.5" x2="62.6" y2="660.5" stroke="#222" stroke-width="0.8"/>
<line x1="77.7" y1="660.5" x2="78.9" y2="660.5" stroke="#666" stroke-width="0.7"/>
<text x="75.1" y="678.8" font-size="7" fill="#222" class="t" text-anchor="end">800</text>
<line x1="61.1" y1="676.3" x2="62.6" y2="676.3" stroke="#222" stroke-width="0.8"/>
<line x1="77.7" y1="676.3" x2="78.9" y2="676.3" stroke="#666" stroke-width="0.7"/>
<text transform="translate(48.1,605.4) rotate(-90)" font-size="8.4" fill="#222" class="t" text-anchor="middle">P</text>
<text transform="translate(58.4,604.2) rotate(-90)" font-size="8.4" fill="#222" class="t" text-anchor="middle">in mm</text>
<text transform="translate(49.5,653.5) rotate(-90)" font-size="8.4" fill="#222" class="t" text-anchor="middle">Pressure head</text>
<text transform="translate(58.5,651.9) rotate(-90)" font-size="8.4" fill="#222" class="t" text-anchor="middle">in cm</text>
<rect x="179.4" y="594.4" width="97.2" height="89.6" fill="#fff"/>
<path d="M179.4 684 V594.4 H276.6 V684" fill="none" stroke="#9a9a9a" stroke-width="1"/>
<line x1="179.4" y1="684" x2="276.6" y2="684" stroke="#888" stroke-width="0.9" stroke-dasharray="1.2 1.2"/>
<line x1="179.4" y1="613.2" x2="276.6" y2="613.2" stroke="#8a8a8a" stroke-width="0.7"/>
<line x1="179.4" y1="644.8" x2="276.6" y2="644.8" stroke="#eeb4b4" stroke-width="1.2" stroke-dasharray="5.6 2"/>
<line x1="181.6" y1="684" x2="181.6" y2="685.5" stroke="#666" stroke-width="0.7"/>
<line x1="198.0" y1="684" x2="198.0" y2="685.5" stroke="#666" stroke-width="0.7"/>
<line x1="214.4" y1="684" x2="214.4" y2="685.5" stroke="#666" stroke-width="0.7"/>
<line x1="230.8" y1="684" x2="230.8" y2="685.5" stroke="#666" stroke-width="0.7"/>
<line x1="247.2" y1="684" x2="247.2" y2="685.5" stroke="#666" stroke-width="0.7"/>
<line x1="263.6" y1="684" x2="263.6" y2="685.5" stroke="#666" stroke-width="0.7"/>
<polyline points="183.0,618.4 186.0,620.4 189.0,617.6 192.0,619.0 196.0,622.0 199.0,618.0 202.0,619.0 205.0,621.0 208.0,623.0 210.0,626.0 212.0,634.0 214.0,642.0 216.0,650.0 217.4,658.0 219.4,660.0 222.0,664.0 224.6,658.0 226.6,670.0 228.6,680.0 231.0,681.0 234.0,680.0 236.0,673.0 237.4,667.0 239.0,680.0 242.0,682.0 245.0,681.0 248.0,682.0 251.0,682.0 253.0,668.0 254.0,682.0 256.0,678.0 258.0,674.0 260.0,670.0 261.4,663.0 264.0,660.0 267.0,662.0 270.0,658.0 273.0,654.0 275.0,653.0 277.0,646.4" fill="none" stroke="#ff8448" stroke-width="1.3" stroke-linejoin="round"/>
<polyline points="183.0,621.0 187.0,625.6 190.0,620.0 193.0,622.0 196.0,623.0 199.0,619.0 202.0,620.0 206.0,622.0 209.0,624.0 211.0,628.0 213.0,634.0 215.0,639.0 217.4,642.0 220.0,643.0 222.0,646.0 224.0,642.0 226.0,645.0 228.0,649.0 230.6,654.0 233.0,659.0 235.4,666.0 237.0,650.0 239.0,648.0 242.0,651.0 245.0,658.0 248.0,666.0 251.0,674.0 252.6,676.0 253.4,646.0 256.0,647.0 258.6,639.0 261.0,637.0 264.6,637.0 267.0,642.0 270.0,648.0 272.0,653.0 274.0,652.0 277.0,646.4" fill="none" stroke="#0a870a" stroke-width="1.3" stroke-linejoin="round"/>
<rect x="262" y="611.5" width="1" height="1.7" fill="#222" shape-rendering="crispEdges"/>
<rect x="217" y="612.3" width="1" height="0.9" fill="#222" shape-rendering="crispEdges"/>
<rect x="250" y="611.8" width="1" height="1.4" fill="#222" shape-rendering="crispEdges"/>
<rect x="264" y="611.1" width="1" height="2.1" fill="#222" shape-rendering="crispEdges"/>
<rect x="270" y="611.0" width="1" height="2.2" fill="#222" shape-rendering="crispEdges"/>
<rect x="224" y="612.0" width="1" height="1.2" fill="#222" shape-rendering="crispEdges"/>
<rect x="249" y="611.5" width="1" height="1.7" fill="#222" shape-rendering="crispEdges"/>
<rect x="233" y="611.1" width="1" height="2.1" fill="#222" shape-rendering="crispEdges"/>
<rect x="207" y="611.7" width="1" height="1.5" fill="#222" shape-rendering="crispEdges"/>
<rect x="233" y="611.5" width="1" height="1.7" fill="#222" shape-rendering="crispEdges"/>
<rect x="238" y="611.4" width="1" height="1.8" fill="#222" shape-rendering="crispEdges"/>
<rect x="198" y="611.4" width="1" height="1.8" fill="#222" shape-rendering="crispEdges"/>
<rect x="267" y="610.9" width="1" height="2.3" fill="#222" shape-rendering="crispEdges"/>
<rect x="266" y="612.0" width="1" height="1.2" fill="#222" shape-rendering="crispEdges"/>
<rect x="188" y="611.4" width="1" height="1.8" fill="#222" shape-rendering="crispEdges"/>
<rect x="255" y="611.0" width="1" height="2.2" fill="#222" shape-rendering="crispEdges"/>
<rect x="206" y="611.5" width="1" height="1.7" fill="#222" shape-rendering="crispEdges"/>
<rect x="194" y="611.1" width="1" height="2.1" fill="#222" shape-rendering="crispEdges"/>
<rect x="221" y="611.3" width="1" height="1.9" fill="#222" shape-rendering="crispEdges"/>
<rect x="186" y="611.8" width="1" height="1.4" fill="#222" shape-rendering="crispEdges"/>
<rect x="255" y="612.4" width="1" height="0.8" fill="#222" shape-rendering="crispEdges"/>
<rect x="195" y="612.2" width="1" height="1.0" fill="#222" shape-rendering="crispEdges"/>
<rect x="189" y="609.8" width="1" height="3.4" fill="#111" shape-rendering="crispEdges"/>
<rect x="197" y="611.4" width="1" height="1.8" fill="#111" shape-rendering="crispEdges"/>
<rect x="205" y="612.2" width="1" height="1.0" fill="#111" shape-rendering="crispEdges"/>
<rect x="215" y="612.2" width="1" height="1.0" fill="#111" shape-rendering="crispEdges"/>
<rect x="226" y="612.2" width="1" height="1.0" fill="#111" shape-rendering="crispEdges"/>
<rect x="233" y="612.2" width="1" height="1.0" fill="#111" shape-rendering="crispEdges"/>
<rect x="236" y="611.4" width="1" height="1.8" fill="#111" shape-rendering="crispEdges"/>
<rect x="245" y="612.2" width="1" height="1.0" fill="#111" shape-rendering="crispEdges"/>
<rect x="252" y="608.2" width="1" height="5.0" fill="#111" shape-rendering="crispEdges"/>
<rect x="257" y="611.4" width="1" height="1.8" fill="#111" shape-rendering="crispEdges"/>
<rect x="269" y="612.2" width="1" height="1.0" fill="#111" shape-rendering="crispEdges"/>
<text transform="translate(183.0,677.7) scale(0.88,1)" font-size="9.5" fill="#222" class="t">2008</text>
<text transform="translate(177.4,696.6) scale(0.86,1)" font-size="9.3" fill="#222" class="t" text-anchor="middle">May</text>
<text transform="translate(193.9,696.6) scale(0.86,1)" font-size="9.3" fill="#222" class="t" text-anchor="middle">Jun</text>
<text transform="translate(209.7,696.6) scale(0.86,1)" font-size="9.3" fill="#222" class="t" text-anchor="middle">Jul</text>
<text transform="translate(226.1,696.6) scale(0.86,1)" font-size="9.3" fill="#222" class="t" text-anchor="middle">Aug</text>
<text transform="translate(242.9,696.6) scale(0.86,1)" font-size="9.3" fill="#222" class="t" text-anchor="middle">Sep</text>
<text transform="translate(258.7,696.6) scale(0.86,1)" font-size="9.3" fill="#222" class="t" text-anchor="middle">Oct</text>
<rect x="282.2" y="594.4" width="97.0" height="89.6" fill="#fff"/>
<path d="M282.2 684 V594.4 H379.2 V684" fill="none" stroke="#9a9a9a" stroke-width="1"/>
<line x1="282.2" y1="684" x2="379.2" y2="684" stroke="#888" stroke-width="0.9" stroke-dasharray="1.2 1.2"/>
<line x1="282.2" y1="613.2" x2="379.2" y2="613.2" stroke="#8a8a8a" stroke-width="0.7"/>
<line x1="282.2" y1="644.8" x2="379.2" y2="644.8" stroke="#e28888" stroke-width="1.2" stroke-dasharray="5.6 2"/>
<line x1="284.4" y1="684" x2="284.4" y2="685.5" stroke="#666" stroke-width="0.7"/>
<line x1="300.8" y1="684" x2="300.8" y2="685.5" stroke="#666" stroke-width="0.7"/>
<line x1="317.2" y1="684" x2="317.2" y2="685.5" stroke="#666" stroke-width="0.7"/>
<line x1="333.6" y1="684" x2="333.6" y2="685.5" stroke="#666" stroke-width="0.7"/>
<line x1="350.0" y1="684" x2="350.0" y2="685.5" stroke="#666" stroke-width="0.7"/>
<line x1="366.4" y1="684" x2="366.4" y2="685.5" stroke="#666" stroke-width="0.7"/>
<polyline points="291.0,621.0 293.0,617.6 296.0,619.0 299.0,619.6 302.0,621.0 303.6,618.0 306.0,619.6 309.0,621.0 312.0,622.0 315.0,627.0 317.0,636.0 319.0,650.0 321.0,662.0 323.0,671.0 324.4,678.0 326.0,681.0 328.0,678.0 330.0,680.0 332.0,679.0 334.4,682.0 337.0,678.0 339.0,682.0 342.0,680.0 345.0,678.0 348.0,679.0 351.0,680.0 354.0,679.0 357.0,680.0 360.0,679.0 363.0,679.0 365.6,676.0 367.0,670.0 368.4,674.0 370.0,668.0 371.0,660.0 373.0,667.0 376.0,670.0 379.0,673.0" fill="none" stroke="#ff8448" stroke-width="1.3" stroke-linejoin="round"/>
<polyline points="291.0,640.0 293.0,632.0 295.0,628.0 298.0,629.0 300.4,636.0 302.0,640.0 304.0,626.0 307.0,628.0 310.0,633.0 312.0,639.0 313.6,637.0 315.0,642.0 317.0,654.0 319.0,663.0 321.0,670.0 323.0,671.0 324.0,675.0 326.0,674.0 328.4,677.0 330.0,669.0 332.0,676.0 333.6,671.0 335.6,676.0 337.0,662.0 338.4,674.0 341.0,675.0 344.0,674.0 347.0,673.0 349.0,669.0 351.0,673.0 354.0,672.0 357.0,675.0 360.0,676.0 362.0,673.0 364.0,676.0 365.6,674.0 367.6,659.0 369.0,674.0 370.4,655.0 373.0,649.0 376.0,650.0 379.0,653.0" fill="none" stroke="#0a870a" stroke-width="1.3" stroke-linejoin="round"/>
<rect x="350" y="611.4" width="1" height="1.8" fill="#222" shape-rendering="crispEdges"/>
<rect x="373" y="612.2" width="1" height="1.0" fill="#222" shape-rendering="crispEdges"/>
<rect x="343" y="612.3" width="1" height="0.9" fill="#222" shape-rendering="crispEdges"/>
<rect x="344" y="611.7" width="1" height="1.5" fill="#222" shape-rendering="crispEdges"/>
<rect x="368" y="611.3" width="1" height="1.9" fill="#222" shape-rendering="crispEdges"/>
<rect x="339" y="611.2" width="1" height="2.0" fill="#222" shape-rendering="crispEdges"/>
<rect x="288" y="611.4" width="1" height="1.8" fill="#222" shape-rendering="crispEdges"/>
<rect x="296" y="611.9" width="1" height="1.3" fill="#222" shape-rendering="crispEdges"/>
<rect x="339" y="611.0" width="1" height="2.2" fill="#222" shape-rendering="crispEdges"/>
<rect x="342" y="611.5" width="1" height="1.7" fill="#222" shape-rendering="crispEdges"/>
<rect x="326" y="611.8" width="1" height="1.4" fill="#222" shape-rendering="crispEdges"/>
<rect x="321" y="611.4" width="1" height="1.8" fill="#222" shape-rendering="crispEdges"/>
<rect x="364" y="612.0" width="1" height="1.2" fill="#222" shape-rendering="crispEdges"/>
<rect x="297" y="611.3" width="1" height="1.9" fill="#222" shape-rendering="crispEdges"/>
<rect x="345" y="611.7" width="1" height="1.5" fill="#222" shape-rendering="crispEdges"/>
<rect x="302" y="610.8" width="1" height="2.4" fill="#222" shape-rendering="crispEdges"/>
<rect x="300" y="611.8" width="1" height="1.4" fill="#222" shape-rendering="crispEdges"/>
<rect x="310" y="611.0" width="1" height="2.2" fill="#222" shape-rendering="crispEdges"/>
<rect x="295" y="611.7" width="1" height="1.5" fill="#222" shape-rendering="crispEdges"/>
<rect x="343" y="612.4" width="1" height="0.8" fill="#222" shape-rendering="crispEdges"/>
<rect x="296" y="611.1" width="1" height="2.1" fill="#222" shape-rendering="crispEdges"/>
<rect x="334" y="611.3" width="1" height="1.9" fill="#222" shape-rendering="crispEdges"/>
<rect x="292" y="611.8" width="1" height="1.4" fill="#111" shape-rendering="crispEdges"/>
<rect x="301" y="609.8" width="1" height="3.4" fill="#111" shape-rendering="crispEdges"/>
<rect x="307" y="612.4" width="1" height="0.8" fill="#111" shape-rendering="crispEdges"/>
<rect x="316" y="613.2" width="1" height="0.0" fill="#111" shape-rendering="crispEdges"/>
<rect x="325" y="611.8" width="1" height="1.4" fill="#111" shape-rendering="crispEdges"/>
<rect x="338" y="610.8" width="1" height="2.4" fill="#111" shape-rendering="crispEdges"/>
<rect x="348" y="611.8" width="1" height="1.4" fill="#111" shape-rendering="crispEdges"/>
<rect x="357" y="612.4" width="1" height="0.8" fill="#111" shape-rendering="crispEdges"/>
<rect x="366" y="611.2" width="1" height="2.0" fill="#111" shape-rendering="crispEdges"/>
<rect x="370" y="612.4" width="1" height="0.8" fill="#111" shape-rendering="crispEdges"/>
<text transform="translate(285.8,677.7) scale(0.88,1)" font-size="9.5" fill="#222" class="t">2015</text>
<text transform="translate(280.2,696.6) scale(0.86,1)" font-size="9.3" fill="#222" class="t" text-anchor="middle">May</text>
<text transform="translate(296.7,696.6) scale(0.86,1)" font-size="9.3" fill="#222" class="t" text-anchor="middle">Jun</text>
<text transform="translate(312.5,696.6) scale(0.86,1)" font-size="9.3" fill="#222" class="t" text-anchor="middle">Jul</text>
<text transform="translate(328.9,696.6) scale(0.86,1)" font-size="9.3" fill="#222" class="t" text-anchor="middle">Aug</text>
<text transform="translate(345.7,696.6) scale(0.86,1)" font-size="9.3" fill="#222" class="t" text-anchor="middle">Sep</text>
<text transform="translate(361.5,696.6) scale(0.86,1)" font-size="9.3" fill="#222" class="t" text-anchor="middle">Oct</text>
<rect x="383.4" y="594.4" width="97.1" height="89.6" fill="#fff"/>
<path d="M383.4 684 V594.4 H480.5 V684" fill="none" stroke="#9a9a9a" stroke-width="1"/>
<line x1="383.4" y1="684" x2="480.5" y2="684" stroke="#888" stroke-width="0.9" stroke-dasharray="1.2 1.2"/>
<line x1="383.4" y1="613.2" x2="480.5" y2="613.2" stroke="#8a8a8a" stroke-width="0.7"/>
<line x1="383.4" y1="644.8" x2="480.5" y2="644.8" stroke="#eeb4b4" stroke-width="1.2" stroke-dasharray="5.6 2"/>
<line x1="385.6" y1="684" x2="385.6" y2="685.5" stroke="#666" stroke-width="0.7"/>
<line x1="402.0" y1="684" x2="402.0" y2="685.5" stroke="#666" stroke-width="0.7"/>
<line x1="418.4" y1="684" x2="418.4" y2="685.5" stroke="#666" stroke-width="0.7"/>
<line x1="434.8" y1="684" x2="434.8" y2="685.5" stroke="#666" stroke-width="0.7"/>
<line x1="451.2" y1="684" x2="451.2" y2="685.5" stroke="#666" stroke-width="0.7"/>
<line x1="467.6" y1="684" x2="467.6" y2="685.5" stroke="#666" stroke-width="0.7"/>
<polyline points="392.6,618.4 395.0,620.0 398.0,623.0 401.0,628.0 403.0,630.0 405.0,632.0 407.0,637.0 408.6,646.0 410.0,656.0 411.4,666.0 413.0,672.0 415.0,674.0 417.0,673.0 419.0,676.0 420.6,678.0 423.0,674.0 425.4,677.0 427.4,680.0 429.0,668.0 430.6,681.0 432.6,680.0 434.6,682.0 436.0,674.0 437.4,665.0 439.4,669.0 441.4,676.0 444.0,675.0 446.6,677.0 448.6,668.0 450.6,658.0 451.4,652.0 453.4,666.0 455.4,670.0 458.0,672.0 461.0,676.0 464.0,675.0 466.6,680.0 468.6,674.0 470.0,666.0 472.6,668.0 475.0,672.0 477.4,671.0 479.0,654.0 480.4,642.0" fill="none" stroke="#ff8448" stroke-width="1.3" stroke-linejoin="round"/>
<polyline points="392.6,620.4 396.0,625.0 399.0,634.0 401.4,642.0 404.0,645.0 405.4,654.0 407.0,644.0 409.0,654.0 411.0,663.0 413.0,668.0 414.6,673.0 416.0,668.0 418.0,673.0 420.0,671.0 422.0,669.0 424.0,672.0 426.0,676.0 428.0,674.0 430.0,676.0 431.4,673.0 434.0,676.0 436.0,670.0 437.4,666.0 440.0,671.0 443.0,661.0 445.0,666.0 447.0,671.0 450.0,629.0 452.0,634.0 455.0,644.0 458.0,650.0 461.0,660.0 463.0,662.0 466.6,666.0 470.0,663.0 472.6,669.0 475.0,671.0 478.0,669.0 480.4,661.0" fill="none" stroke="#0a870a" stroke-width="1.3" stroke-linejoin="round"/>
<rect x="405" y="611.9" width="1" height="1.3" fill="#222" shape-rendering="crispEdges"/>
<rect x="416" y="611.6" width="1" height="1.6" fill="#222" shape-rendering="crispEdges"/>
<rect x="452" y="611.0" width="1" height="2.2" fill="#222" shape-rendering="crispEdges"/>
<rect x="428" y="611.1" width="1" height="2.1" fill="#222" shape-rendering="crispEdges"/>
<rect x="397" y="611.0" width="1" height="2.2" fill="#222" shape-rendering="crispEdges"/>
<rect x="422" y="610.8" width="1" height="2.4" fill="#222" shape-rendering="crispEdges"/>
<rect x="447" y="612.4" width="1" height="0.8" fill="#222" shape-rendering="crispEdges"/>
<rect x="394" y="612.0" width="1" height="1.2" fill="#222" shape-rendering="crispEdges"/>
<rect x="458" y="612.2" width="1" height="1.0" fill="#222" shape-rendering="crispEdges"/>
<rect x="404" y="612.0" width="1" height="1.2" fill="#222" shape-rendering="crispEdges"/>
<rect x="408" y="611.6" width="1" height="1.6" fill="#222" shape-rendering="crispEdges"/>
<rect x="475" y="611.4" width="1" height="1.8" fill="#222" shape-rendering="crispEdges"/>
<rect x="422" y="611.0" width="1" height="2.2" fill="#222" shape-rendering="crispEdges"/>
<rect x="439" y="611.1" width="1" height="2.1" fill="#222" shape-rendering="crispEdges"/>
<rect x="414" y="611.2" width="1" height="2.0" fill="#222" shape-rendering="crispEdges"/>
<rect x="457" y="611.0" width="1" height="2.2" fill="#222" shape-rendering="crispEdges"/>
<rect x="450" y="611.6" width="1" height="1.6" fill="#222" shape-rendering="crispEdges"/>
<rect x="475" y="611.8" width="1" height="1.4" fill="#222" shape-rendering="crispEdges"/>
<rect x="413" y="611.4" width="1" height="1.8" fill="#222" shape-rendering="crispEdges"/>
<rect x="397" y="612.2" width="1" height="1.0" fill="#222" shape-rendering="crispEdges"/>
<rect x="453" y="612.0" width="1" height="1.2" fill="#222" shape-rendering="crispEdges"/>
<rect x="427" y="611.2" width="1" height="2.0" fill="#222" shape-rendering="crispEdges"/>
<rect x="396" y="613.2" width="1" height="0.0" fill="#111" shape-rendering="crispEdges"/>
<rect x="403" y="612.4" width="1" height="0.8" fill="#111" shape-rendering="crispEdges"/>
<rect x="409" y="612.8" width="1" height="0.4" fill="#111" shape-rendering="crispEdges"/>
<rect x="415" y="612.4" width="1" height="0.8" fill="#111" shape-rendering="crispEdges"/>
<rect x="422" y="612.4" width="1" height="0.8" fill="#111" shape-rendering="crispEdges"/>
<rect x="432" y="611.8" width="1" height="1.4" fill="#111" shape-rendering="crispEdges"/>
<rect x="439" y="611.2" width="1" height="2.0" fill="#111" shape-rendering="crispEdges"/>
<rect x="448" y="609.8" width="1" height="3.4" fill="#111" shape-rendering="crispEdges"/>
<rect x="452" y="612.8" width="1" height="0.4" fill="#111" shape-rendering="crispEdges"/>
<rect x="462" y="613.2" width="1" height="0.0" fill="#111" shape-rendering="crispEdges"/>
<rect x="467" y="612.8" width="1" height="0.4" fill="#111" shape-rendering="crispEdges"/>
<rect x="475" y="612.4" width="1" height="0.8" fill="#111" shape-rendering="crispEdges"/>
<text transform="translate(387.0,677.7) scale(0.88,1)" font-size="9.5" fill="#222" class="t">2017</text>
<text transform="translate(381.4,696.6) scale(0.86,1)" font-size="9.3" fill="#222" class="t" text-anchor="middle">May</text>
<text transform="translate(397.9,696.6) scale(0.86,1)" font-size="9.3" fill="#222" class="t" text-anchor="middle">Jun</text>
<text transform="translate(413.7,696.6) scale(0.86,1)" font-size="9.3" fill="#222" class="t" text-anchor="middle">Jul</text>
<text transform="translate(430.1,696.6) scale(0.86,1)" font-size="9.3" fill="#222" class="t" text-anchor="middle">Aug</text>
<text transform="translate(446.9,696.6) scale(0.86,1)" font-size="9.3" fill="#222" class="t" text-anchor="middle">Sep</text>
<text transform="translate(462.7,696.6) scale(0.86,1)" font-size="9.3" fill="#222" class="t" text-anchor="middle">Oct</text>
</svg></body></html>
